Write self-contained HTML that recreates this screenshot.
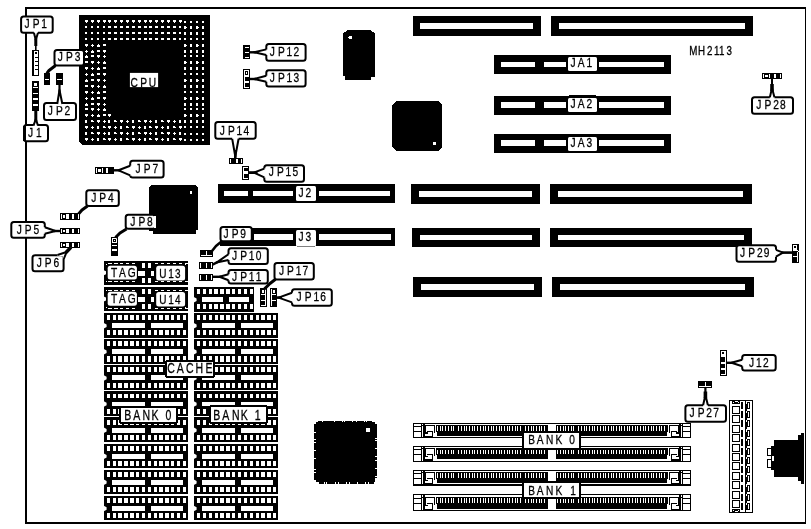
<!DOCTYPE html>
<html lang="en"><head><meta charset="utf-8"><title>MH2113 motherboard layout</title>
<style>
html,body{margin:0;padding:0;background:#fff;}
body{width:811px;height:529px;overflow:hidden;}
svg{display:block;filter:grayscale(1);font-family:"Liberation Sans",sans-serif;}

</style></head><body>
<svg width="811" height="529" viewBox="0 0 811 529" shape-rendering="crispEdges">
<rect x="0" y="0" width="811" height="529" fill="#fff"/>
<rect x="25" y="7" width="781" height="2" fill="#000"/>
<rect x="25" y="522" width="781" height="2" fill="#000"/>
<rect x="25" y="7" width="2" height="517" fill="#000"/>
<rect x="805" y="7" width="1" height="517" fill="#000"/>
<polygon points="79,15 210,15 210,145 82,145 79,142" fill="#000"/>
<rect x="85" y="20" width="3" height="2" fill="#fff"/>
<rect x="86" y="22" width="1" height="1" fill="#fff"/>
<rect x="91" y="20" width="3" height="2" fill="#fff"/>
<rect x="92" y="22" width="1" height="1" fill="#fff"/>
<rect x="97" y="20" width="3" height="2" fill="#fff"/>
<rect x="98" y="22" width="1" height="1" fill="#fff"/>
<rect x="103" y="20" width="3" height="2" fill="#fff"/>
<rect x="104" y="22" width="1" height="1" fill="#fff"/>
<rect x="108" y="20" width="3" height="2" fill="#fff"/>
<rect x="109" y="22" width="1" height="1" fill="#fff"/>
<rect x="114" y="20" width="3" height="2" fill="#fff"/>
<rect x="115" y="22" width="1" height="1" fill="#fff"/>
<rect x="120" y="20" width="3" height="2" fill="#fff"/>
<rect x="121" y="22" width="1" height="1" fill="#fff"/>
<rect x="126" y="20" width="3" height="2" fill="#fff"/>
<rect x="127" y="22" width="1" height="1" fill="#fff"/>
<rect x="132" y="20" width="3" height="2" fill="#fff"/>
<rect x="133" y="22" width="1" height="1" fill="#fff"/>
<rect x="138" y="20" width="3" height="2" fill="#fff"/>
<rect x="139" y="22" width="1" height="1" fill="#fff"/>
<rect x="144" y="20" width="3" height="2" fill="#fff"/>
<rect x="145" y="22" width="1" height="1" fill="#fff"/>
<rect x="149" y="20" width="3" height="2" fill="#fff"/>
<rect x="150" y="22" width="1" height="1" fill="#fff"/>
<rect x="155" y="20" width="3" height="2" fill="#fff"/>
<rect x="156" y="22" width="1" height="1" fill="#fff"/>
<rect x="161" y="20" width="3" height="2" fill="#fff"/>
<rect x="162" y="22" width="1" height="1" fill="#fff"/>
<rect x="167" y="20" width="3" height="2" fill="#fff"/>
<rect x="168" y="22" width="1" height="1" fill="#fff"/>
<rect x="173" y="20" width="3" height="2" fill="#fff"/>
<rect x="174" y="22" width="1" height="1" fill="#fff"/>
<rect x="179" y="20" width="3" height="2" fill="#fff"/>
<rect x="180" y="22" width="1" height="1" fill="#fff"/>
<rect x="184" y="21" width="2" height="2" fill="#fff"/>
<rect x="190" y="21" width="2" height="2" fill="#fff"/>
<rect x="196" y="21" width="2" height="2" fill="#fff"/>
<rect x="202" y="21" width="2" height="2" fill="#fff"/>
<rect x="85" y="26" width="2" height="2" fill="#fff"/>
<rect x="91" y="26" width="2" height="2" fill="#fff"/>
<rect x="97" y="26" width="2" height="2" fill="#fff"/>
<rect x="103" y="26" width="2" height="2" fill="#fff"/>
<rect x="108" y="26" width="3" height="2" fill="#fff"/>
<rect x="114" y="26" width="3" height="2" fill="#fff"/>
<rect x="120" y="26" width="3" height="2" fill="#fff"/>
<rect x="126" y="26" width="3" height="2" fill="#fff"/>
<rect x="132" y="26" width="3" height="2" fill="#fff"/>
<rect x="138" y="26" width="3" height="2" fill="#fff"/>
<rect x="144" y="26" width="3" height="2" fill="#fff"/>
<rect x="149" y="26" width="3" height="2" fill="#fff"/>
<rect x="155" y="26" width="3" height="2" fill="#fff"/>
<rect x="161" y="26" width="3" height="2" fill="#fff"/>
<rect x="167" y="26" width="3" height="2" fill="#fff"/>
<rect x="173" y="26" width="3" height="2" fill="#fff"/>
<rect x="179" y="26" width="2" height="2" fill="#fff"/>
<rect x="184" y="26" width="2" height="3" fill="#fff"/>
<rect x="186" y="27" width="1" height="1" fill="#fff"/>
<rect x="190" y="26" width="2" height="3" fill="#fff"/>
<rect x="196" y="26" width="2" height="3" fill="#fff"/>
<rect x="198" y="27" width="1" height="1" fill="#fff"/>
<rect x="202" y="26" width="2" height="3" fill="#fff"/>
<rect x="85" y="32" width="2" height="2" fill="#fff"/>
<rect x="91" y="32" width="2" height="2" fill="#fff"/>
<rect x="97" y="32" width="2" height="2" fill="#fff"/>
<rect x="103" y="32" width="2" height="2" fill="#fff"/>
<rect x="108" y="32" width="3" height="2" fill="#fff"/>
<rect x="114" y="32" width="3" height="2" fill="#fff"/>
<rect x="120" y="32" width="3" height="2" fill="#fff"/>
<rect x="126" y="32" width="3" height="2" fill="#fff"/>
<rect x="132" y="32" width="3" height="2" fill="#fff"/>
<rect x="138" y="32" width="3" height="2" fill="#fff"/>
<rect x="144" y="32" width="3" height="2" fill="#fff"/>
<rect x="149" y="32" width="3" height="2" fill="#fff"/>
<rect x="155" y="32" width="3" height="2" fill="#fff"/>
<rect x="161" y="32" width="3" height="2" fill="#fff"/>
<rect x="167" y="32" width="3" height="2" fill="#fff"/>
<rect x="173" y="32" width="3" height="2" fill="#fff"/>
<rect x="179" y="32" width="2" height="2" fill="#fff"/>
<rect x="184" y="32" width="2" height="3" fill="#fff"/>
<rect x="190" y="32" width="2" height="3" fill="#fff"/>
<rect x="196" y="32" width="2" height="3" fill="#fff"/>
<rect x="202" y="32" width="2" height="3" fill="#fff"/>
<rect x="85" y="38" width="2" height="2" fill="#fff"/>
<rect x="91" y="38" width="2" height="2" fill="#fff"/>
<rect x="97" y="38" width="2" height="2" fill="#fff"/>
<rect x="103" y="38" width="2" height="2" fill="#fff"/>
<rect x="108" y="38" width="3" height="2" fill="#fff"/>
<rect x="114" y="38" width="3" height="2" fill="#fff"/>
<rect x="120" y="38" width="3" height="2" fill="#fff"/>
<rect x="126" y="38" width="3" height="2" fill="#fff"/>
<rect x="132" y="38" width="3" height="2" fill="#fff"/>
<rect x="138" y="38" width="3" height="2" fill="#fff"/>
<rect x="144" y="38" width="3" height="2" fill="#fff"/>
<rect x="149" y="38" width="3" height="2" fill="#fff"/>
<rect x="155" y="38" width="3" height="2" fill="#fff"/>
<rect x="161" y="38" width="3" height="2" fill="#fff"/>
<rect x="167" y="38" width="3" height="2" fill="#fff"/>
<rect x="173" y="38" width="3" height="2" fill="#fff"/>
<rect x="179" y="38" width="2" height="2" fill="#fff"/>
<rect x="184" y="38" width="2" height="2" fill="#fff"/>
<rect x="190" y="38" width="2" height="2" fill="#fff"/>
<rect x="196" y="38" width="2" height="2" fill="#fff"/>
<rect x="202" y="38" width="2" height="2" fill="#fff"/>
<rect x="85" y="44" width="3" height="2" fill="#fff"/>
<rect x="86" y="46" width="1" height="1" fill="#fff"/>
<rect x="91" y="45" width="3" height="1" fill="#fff"/>
<rect x="92" y="44" width="1" height="3" fill="#fff"/>
<rect x="97" y="45" width="3" height="2" fill="#fff"/>
<rect x="98" y="44" width="1" height="1" fill="#fff"/>
<rect x="103" y="44" width="3" height="2" fill="#fff"/>
<rect x="184" y="44" width="2" height="3" fill="#fff"/>
<rect x="186" y="45" width="1" height="1" fill="#fff"/>
<rect x="190" y="44" width="2" height="3" fill="#fff"/>
<rect x="196" y="44" width="2" height="3" fill="#fff"/>
<rect x="198" y="45" width="1" height="1" fill="#fff"/>
<rect x="202" y="44" width="2" height="3" fill="#fff"/>
<rect x="85" y="51" width="3" height="1" fill="#fff"/>
<rect x="86" y="50" width="1" height="3" fill="#fff"/>
<rect x="91" y="51" width="3" height="2" fill="#fff"/>
<rect x="92" y="50" width="1" height="1" fill="#fff"/>
<rect x="97" y="50" width="3" height="2" fill="#fff"/>
<rect x="103" y="50" width="3" height="2" fill="#fff"/>
<rect x="104" y="52" width="1" height="1" fill="#fff"/>
<rect x="184" y="50" width="2" height="3" fill="#fff"/>
<rect x="190" y="50" width="2" height="3" fill="#fff"/>
<rect x="196" y="50" width="2" height="3" fill="#fff"/>
<rect x="202" y="50" width="2" height="3" fill="#fff"/>
<rect x="85" y="56" width="3" height="2" fill="#fff"/>
<rect x="86" y="55" width="1" height="1" fill="#fff"/>
<rect x="91" y="55" width="3" height="2" fill="#fff"/>
<rect x="97" y="55" width="3" height="2" fill="#fff"/>
<rect x="98" y="57" width="1" height="1" fill="#fff"/>
<rect x="103" y="56" width="3" height="1" fill="#fff"/>
<rect x="104" y="55" width="1" height="3" fill="#fff"/>
<rect x="184" y="55" width="2" height="2" fill="#fff"/>
<rect x="190" y="55" width="2" height="2" fill="#fff"/>
<rect x="196" y="55" width="2" height="2" fill="#fff"/>
<rect x="202" y="55" width="2" height="2" fill="#fff"/>
<rect x="85" y="61" width="3" height="2" fill="#fff"/>
<rect x="91" y="61" width="3" height="2" fill="#fff"/>
<rect x="92" y="63" width="1" height="1" fill="#fff"/>
<rect x="97" y="62" width="3" height="1" fill="#fff"/>
<rect x="98" y="61" width="1" height="3" fill="#fff"/>
<rect x="103" y="62" width="3" height="2" fill="#fff"/>
<rect x="104" y="61" width="1" height="1" fill="#fff"/>
<rect x="184" y="61" width="2" height="3" fill="#fff"/>
<rect x="186" y="62" width="1" height="1" fill="#fff"/>
<rect x="190" y="61" width="2" height="3" fill="#fff"/>
<rect x="196" y="61" width="2" height="3" fill="#fff"/>
<rect x="198" y="62" width="1" height="1" fill="#fff"/>
<rect x="202" y="61" width="2" height="3" fill="#fff"/>
<rect x="85" y="67" width="3" height="2" fill="#fff"/>
<rect x="86" y="69" width="1" height="1" fill="#fff"/>
<rect x="91" y="68" width="3" height="1" fill="#fff"/>
<rect x="92" y="67" width="1" height="3" fill="#fff"/>
<rect x="97" y="68" width="3" height="2" fill="#fff"/>
<rect x="98" y="67" width="1" height="1" fill="#fff"/>
<rect x="103" y="67" width="3" height="2" fill="#fff"/>
<rect x="184" y="67" width="2" height="3" fill="#fff"/>
<rect x="190" y="67" width="2" height="3" fill="#fff"/>
<rect x="196" y="67" width="2" height="3" fill="#fff"/>
<rect x="202" y="67" width="2" height="3" fill="#fff"/>
<rect x="85" y="74" width="3" height="1" fill="#fff"/>
<rect x="86" y="73" width="1" height="3" fill="#fff"/>
<rect x="91" y="74" width="3" height="2" fill="#fff"/>
<rect x="92" y="73" width="1" height="1" fill="#fff"/>
<rect x="97" y="73" width="3" height="2" fill="#fff"/>
<rect x="103" y="73" width="3" height="2" fill="#fff"/>
<rect x="104" y="75" width="1" height="1" fill="#fff"/>
<rect x="184" y="73" width="2" height="2" fill="#fff"/>
<rect x="190" y="73" width="2" height="2" fill="#fff"/>
<rect x="196" y="73" width="2" height="2" fill="#fff"/>
<rect x="202" y="73" width="2" height="2" fill="#fff"/>
<rect x="85" y="80" width="3" height="2" fill="#fff"/>
<rect x="86" y="79" width="1" height="1" fill="#fff"/>
<rect x="91" y="79" width="3" height="2" fill="#fff"/>
<rect x="97" y="79" width="3" height="2" fill="#fff"/>
<rect x="98" y="81" width="1" height="1" fill="#fff"/>
<rect x="103" y="80" width="3" height="1" fill="#fff"/>
<rect x="104" y="79" width="1" height="3" fill="#fff"/>
<rect x="184" y="79" width="2" height="3" fill="#fff"/>
<rect x="186" y="80" width="1" height="1" fill="#fff"/>
<rect x="190" y="79" width="2" height="3" fill="#fff"/>
<rect x="196" y="79" width="2" height="3" fill="#fff"/>
<rect x="198" y="80" width="1" height="1" fill="#fff"/>
<rect x="202" y="79" width="2" height="3" fill="#fff"/>
<rect x="85" y="85" width="3" height="2" fill="#fff"/>
<rect x="91" y="85" width="3" height="2" fill="#fff"/>
<rect x="92" y="87" width="1" height="1" fill="#fff"/>
<rect x="97" y="86" width="3" height="1" fill="#fff"/>
<rect x="98" y="85" width="1" height="3" fill="#fff"/>
<rect x="103" y="86" width="3" height="2" fill="#fff"/>
<rect x="104" y="85" width="1" height="1" fill="#fff"/>
<rect x="184" y="85" width="2" height="3" fill="#fff"/>
<rect x="190" y="85" width="2" height="3" fill="#fff"/>
<rect x="196" y="85" width="2" height="3" fill="#fff"/>
<rect x="202" y="85" width="2" height="3" fill="#fff"/>
<rect x="85" y="91" width="3" height="2" fill="#fff"/>
<rect x="86" y="93" width="1" height="1" fill="#fff"/>
<rect x="91" y="92" width="3" height="1" fill="#fff"/>
<rect x="92" y="91" width="1" height="3" fill="#fff"/>
<rect x="97" y="92" width="3" height="2" fill="#fff"/>
<rect x="98" y="91" width="1" height="1" fill="#fff"/>
<rect x="103" y="91" width="3" height="2" fill="#fff"/>
<rect x="184" y="91" width="2" height="2" fill="#fff"/>
<rect x="190" y="91" width="2" height="2" fill="#fff"/>
<rect x="196" y="91" width="2" height="2" fill="#fff"/>
<rect x="202" y="91" width="2" height="2" fill="#fff"/>
<rect x="85" y="98" width="3" height="1" fill="#fff"/>
<rect x="86" y="97" width="1" height="3" fill="#fff"/>
<rect x="91" y="98" width="3" height="2" fill="#fff"/>
<rect x="92" y="97" width="1" height="1" fill="#fff"/>
<rect x="97" y="97" width="3" height="2" fill="#fff"/>
<rect x="103" y="97" width="3" height="2" fill="#fff"/>
<rect x="104" y="99" width="1" height="1" fill="#fff"/>
<rect x="184" y="97" width="2" height="3" fill="#fff"/>
<rect x="186" y="98" width="1" height="1" fill="#fff"/>
<rect x="190" y="97" width="2" height="3" fill="#fff"/>
<rect x="196" y="97" width="2" height="3" fill="#fff"/>
<rect x="198" y="98" width="1" height="1" fill="#fff"/>
<rect x="202" y="97" width="2" height="3" fill="#fff"/>
<rect x="85" y="104" width="3" height="2" fill="#fff"/>
<rect x="86" y="103" width="1" height="1" fill="#fff"/>
<rect x="91" y="103" width="3" height="2" fill="#fff"/>
<rect x="97" y="103" width="3" height="2" fill="#fff"/>
<rect x="98" y="105" width="1" height="1" fill="#fff"/>
<rect x="103" y="104" width="3" height="1" fill="#fff"/>
<rect x="104" y="103" width="1" height="3" fill="#fff"/>
<rect x="184" y="103" width="2" height="3" fill="#fff"/>
<rect x="190" y="103" width="2" height="3" fill="#fff"/>
<rect x="196" y="103" width="2" height="3" fill="#fff"/>
<rect x="202" y="103" width="2" height="3" fill="#fff"/>
<rect x="85" y="108" width="3" height="2" fill="#fff"/>
<rect x="91" y="108" width="3" height="2" fill="#fff"/>
<rect x="92" y="110" width="1" height="1" fill="#fff"/>
<rect x="97" y="109" width="3" height="1" fill="#fff"/>
<rect x="98" y="108" width="1" height="3" fill="#fff"/>
<rect x="103" y="109" width="3" height="2" fill="#fff"/>
<rect x="104" y="108" width="1" height="1" fill="#fff"/>
<rect x="184" y="108" width="2" height="2" fill="#fff"/>
<rect x="190" y="108" width="2" height="2" fill="#fff"/>
<rect x="196" y="108" width="2" height="2" fill="#fff"/>
<rect x="202" y="108" width="2" height="2" fill="#fff"/>
<rect x="85" y="114" width="3" height="2" fill="#fff"/>
<rect x="86" y="116" width="1" height="1" fill="#fff"/>
<rect x="91" y="115" width="3" height="1" fill="#fff"/>
<rect x="92" y="114" width="1" height="3" fill="#fff"/>
<rect x="97" y="115" width="3" height="2" fill="#fff"/>
<rect x="98" y="114" width="1" height="1" fill="#fff"/>
<rect x="103" y="114" width="3" height="2" fill="#fff"/>
<rect x="108" y="114" width="3" height="2" fill="#fff"/>
<rect x="109" y="116" width="1" height="1" fill="#fff"/>
<rect x="184" y="114" width="2" height="3" fill="#fff"/>
<rect x="186" y="115" width="1" height="1" fill="#fff"/>
<rect x="190" y="114" width="2" height="3" fill="#fff"/>
<rect x="196" y="114" width="2" height="3" fill="#fff"/>
<rect x="198" y="115" width="1" height="1" fill="#fff"/>
<rect x="202" y="114" width="2" height="3" fill="#fff"/>
<rect x="85" y="120" width="2" height="3" fill="#fff"/>
<rect x="91" y="120" width="2" height="2" fill="#fff"/>
<rect x="93" y="121" width="1" height="1" fill="#fff"/>
<rect x="97" y="120" width="3" height="2" fill="#fff"/>
<rect x="98" y="122" width="1" height="1" fill="#fff"/>
<rect x="103" y="121" width="3" height="1" fill="#fff"/>
<rect x="104" y="120" width="1" height="3" fill="#fff"/>
<rect x="108" y="120" width="2" height="3" fill="#fff"/>
<rect x="114" y="120" width="2" height="2" fill="#fff"/>
<rect x="116" y="121" width="1" height="1" fill="#fff"/>
<rect x="120" y="120" width="3" height="2" fill="#fff"/>
<rect x="121" y="122" width="1" height="1" fill="#fff"/>
<rect x="126" y="121" width="3" height="1" fill="#fff"/>
<rect x="127" y="120" width="1" height="3" fill="#fff"/>
<rect x="132" y="120" width="2" height="3" fill="#fff"/>
<rect x="138" y="120" width="2" height="2" fill="#fff"/>
<rect x="140" y="121" width="1" height="1" fill="#fff"/>
<rect x="144" y="120" width="3" height="2" fill="#fff"/>
<rect x="145" y="122" width="1" height="1" fill="#fff"/>
<rect x="149" y="121" width="3" height="1" fill="#fff"/>
<rect x="150" y="120" width="1" height="3" fill="#fff"/>
<rect x="155" y="120" width="2" height="3" fill="#fff"/>
<rect x="161" y="120" width="2" height="2" fill="#fff"/>
<rect x="163" y="121" width="1" height="1" fill="#fff"/>
<rect x="167" y="120" width="3" height="2" fill="#fff"/>
<rect x="168" y="122" width="1" height="1" fill="#fff"/>
<rect x="173" y="121" width="3" height="1" fill="#fff"/>
<rect x="174" y="120" width="1" height="3" fill="#fff"/>
<rect x="179" y="120" width="2" height="3" fill="#fff"/>
<rect x="184" y="120" width="2" height="3" fill="#fff"/>
<rect x="190" y="120" width="2" height="3" fill="#fff"/>
<rect x="196" y="120" width="2" height="3" fill="#fff"/>
<rect x="202" y="120" width="2" height="3" fill="#fff"/>
<rect x="85" y="126" width="3" height="2" fill="#fff"/>
<rect x="86" y="128" width="1" height="1" fill="#fff"/>
<rect x="91" y="127" width="3" height="1" fill="#fff"/>
<rect x="92" y="126" width="1" height="3" fill="#fff"/>
<rect x="97" y="126" width="2" height="3" fill="#fff"/>
<rect x="103" y="126" width="2" height="2" fill="#fff"/>
<rect x="105" y="127" width="1" height="1" fill="#fff"/>
<rect x="108" y="126" width="3" height="2" fill="#fff"/>
<rect x="109" y="128" width="1" height="1" fill="#fff"/>
<rect x="114" y="127" width="3" height="1" fill="#fff"/>
<rect x="115" y="126" width="1" height="3" fill="#fff"/>
<rect x="120" y="126" width="2" height="3" fill="#fff"/>
<rect x="126" y="126" width="2" height="2" fill="#fff"/>
<rect x="128" y="127" width="1" height="1" fill="#fff"/>
<rect x="132" y="126" width="3" height="2" fill="#fff"/>
<rect x="133" y="128" width="1" height="1" fill="#fff"/>
<rect x="138" y="127" width="3" height="1" fill="#fff"/>
<rect x="139" y="126" width="1" height="3" fill="#fff"/>
<rect x="144" y="126" width="2" height="3" fill="#fff"/>
<rect x="149" y="126" width="2" height="2" fill="#fff"/>
<rect x="151" y="127" width="1" height="1" fill="#fff"/>
<rect x="155" y="126" width="3" height="2" fill="#fff"/>
<rect x="156" y="128" width="1" height="1" fill="#fff"/>
<rect x="161" y="127" width="3" height="1" fill="#fff"/>
<rect x="162" y="126" width="1" height="3" fill="#fff"/>
<rect x="167" y="126" width="2" height="3" fill="#fff"/>
<rect x="173" y="126" width="2" height="2" fill="#fff"/>
<rect x="175" y="127" width="1" height="1" fill="#fff"/>
<rect x="179" y="126" width="3" height="2" fill="#fff"/>
<rect x="180" y="128" width="1" height="1" fill="#fff"/>
<rect x="184" y="126" width="2" height="2" fill="#fff"/>
<rect x="190" y="126" width="2" height="2" fill="#fff"/>
<rect x="196" y="126" width="2" height="2" fill="#fff"/>
<rect x="202" y="126" width="2" height="2" fill="#fff"/>
<rect x="85" y="132" width="2" height="3" fill="#fff"/>
<rect x="91" y="132" width="2" height="2" fill="#fff"/>
<rect x="93" y="133" width="1" height="1" fill="#fff"/>
<rect x="97" y="132" width="3" height="2" fill="#fff"/>
<rect x="98" y="134" width="1" height="1" fill="#fff"/>
<rect x="103" y="133" width="3" height="1" fill="#fff"/>
<rect x="104" y="132" width="1" height="3" fill="#fff"/>
<rect x="108" y="132" width="2" height="3" fill="#fff"/>
<rect x="114" y="132" width="2" height="2" fill="#fff"/>
<rect x="116" y="133" width="1" height="1" fill="#fff"/>
<rect x="120" y="132" width="3" height="2" fill="#fff"/>
<rect x="121" y="134" width="1" height="1" fill="#fff"/>
<rect x="126" y="133" width="3" height="1" fill="#fff"/>
<rect x="127" y="132" width="1" height="3" fill="#fff"/>
<rect x="132" y="132" width="2" height="3" fill="#fff"/>
<rect x="138" y="132" width="2" height="2" fill="#fff"/>
<rect x="140" y="133" width="1" height="1" fill="#fff"/>
<rect x="144" y="132" width="3" height="2" fill="#fff"/>
<rect x="145" y="134" width="1" height="1" fill="#fff"/>
<rect x="149" y="133" width="3" height="1" fill="#fff"/>
<rect x="150" y="132" width="1" height="3" fill="#fff"/>
<rect x="155" y="132" width="2" height="3" fill="#fff"/>
<rect x="161" y="132" width="2" height="2" fill="#fff"/>
<rect x="163" y="133" width="1" height="1" fill="#fff"/>
<rect x="167" y="132" width="3" height="2" fill="#fff"/>
<rect x="168" y="134" width="1" height="1" fill="#fff"/>
<rect x="173" y="133" width="3" height="1" fill="#fff"/>
<rect x="174" y="132" width="1" height="3" fill="#fff"/>
<rect x="179" y="132" width="2" height="3" fill="#fff"/>
<rect x="184" y="133" width="2" height="2" fill="#fff"/>
<rect x="190" y="133" width="2" height="2" fill="#fff"/>
<rect x="196" y="133" width="2" height="2" fill="#fff"/>
<rect x="202" y="133" width="2" height="2" fill="#fff"/>
<rect x="85" y="138" width="3" height="2" fill="#fff"/>
<rect x="86" y="140" width="1" height="1" fill="#fff"/>
<rect x="91" y="139" width="3" height="1" fill="#fff"/>
<rect x="92" y="138" width="1" height="3" fill="#fff"/>
<rect x="97" y="138" width="2" height="3" fill="#fff"/>
<rect x="103" y="138" width="2" height="2" fill="#fff"/>
<rect x="105" y="139" width="1" height="1" fill="#fff"/>
<rect x="108" y="138" width="3" height="2" fill="#fff"/>
<rect x="109" y="140" width="1" height="1" fill="#fff"/>
<rect x="114" y="139" width="3" height="1" fill="#fff"/>
<rect x="115" y="138" width="1" height="3" fill="#fff"/>
<rect x="120" y="138" width="2" height="3" fill="#fff"/>
<rect x="126" y="138" width="2" height="2" fill="#fff"/>
<rect x="128" y="139" width="1" height="1" fill="#fff"/>
<rect x="132" y="138" width="3" height="2" fill="#fff"/>
<rect x="133" y="140" width="1" height="1" fill="#fff"/>
<rect x="138" y="139" width="3" height="1" fill="#fff"/>
<rect x="139" y="138" width="1" height="3" fill="#fff"/>
<rect x="144" y="138" width="2" height="3" fill="#fff"/>
<rect x="149" y="138" width="2" height="2" fill="#fff"/>
<rect x="151" y="139" width="1" height="1" fill="#fff"/>
<rect x="155" y="138" width="3" height="2" fill="#fff"/>
<rect x="156" y="140" width="1" height="1" fill="#fff"/>
<rect x="161" y="139" width="3" height="1" fill="#fff"/>
<rect x="162" y="138" width="1" height="3" fill="#fff"/>
<rect x="167" y="138" width="2" height="3" fill="#fff"/>
<rect x="173" y="138" width="2" height="2" fill="#fff"/>
<rect x="175" y="139" width="1" height="1" fill="#fff"/>
<rect x="179" y="138" width="3" height="2" fill="#fff"/>
<rect x="180" y="140" width="1" height="1" fill="#fff"/>
<rect x="184" y="139" width="2" height="2" fill="#fff"/>
<rect x="190" y="139" width="2" height="2" fill="#fff"/>
<rect x="196" y="139" width="2" height="2" fill="#fff"/>
<rect x="202" y="139" width="2" height="2" fill="#fff"/>
<rect x="129.90" y="72.90" width="28.20" height="14.20" rx="0" fill="#fff" shape-rendering="geometricPrecision"/>
<text transform="translate(130.60,86.80) scale(0.75,1)" x="0.00 12.80 24.27" font-size="13.6" fill="#000" stroke="#000" stroke-width="0.3">CPU</text>
<polygon points="347,30 370,30 373,32 375,34 375,77 371,77 371,80 345,80 345,76 343,76 343,33 345,32" fill="#000"/>
<rect x="349" y="36" width="3" height="3" fill="#fff"/>
<rect x="348" y="37" width="1" height="1" fill="#fff"/>
<polygon points="396,101 438,101 442,105 442,147 438,151 396,151 392,147 392,105" fill="#000"/>
<rect x="433" y="142" width="3" height="3" fill="#fff"/>
<polygon points="151,185 195,185 198,188 198,230 196,230 196,234 153,234 153,231 149,231 149,188" fill="#000"/>
<rect x="190" y="191" width="2" height="3" fill="#fff"/>
<rect x="316" y="422" width="59" height="60" fill="#000"/>
<rect x="318" y="421" width="54" height="2" fill="#000"/>
<rect x="319" y="481" width="55" height="3" fill="#000"/>
<rect x="314" y="424" width="2" height="56" fill="#000"/>
<rect x="374" y="424" width="3" height="54" fill="#000"/>
<rect x="366" y="428" width="4" height="4" fill="#fff"/>
<rect x="322" y="420" width="1" height="2" fill="#fff"/>
<rect x="334" y="420" width="1" height="2" fill="#fff"/>
<rect x="342" y="420" width="1" height="2" fill="#fff"/>
<rect x="344" y="420" width="1" height="2" fill="#fff"/>
<rect x="352" y="420" width="1" height="2" fill="#fff"/>
<rect x="356" y="420" width="1" height="2" fill="#fff"/>
<rect x="364" y="420" width="1" height="2" fill="#fff"/>
<rect x="366" y="420" width="1" height="2" fill="#fff"/>
<rect x="324" y="482" width="1" height="2" fill="#fff"/>
<rect x="326" y="482" width="1" height="2" fill="#fff"/>
<rect x="335" y="482" width="1" height="2" fill="#fff"/>
<rect x="338" y="482" width="1" height="2" fill="#fff"/>
<rect x="346" y="482" width="1" height="2" fill="#fff"/>
<rect x="349" y="482" width="1" height="2" fill="#fff"/>
<rect x="357" y="482" width="1" height="2" fill="#fff"/>
<rect x="365" y="482" width="1" height="2" fill="#fff"/>
<rect x="368" y="482" width="1" height="2" fill="#fff"/>
<rect x="314" y="432" width="2" height="1" fill="#fff"/>
<rect x="314" y="439" width="2" height="1" fill="#fff"/>
<rect x="314" y="442" width="2" height="1" fill="#fff"/>
<rect x="314" y="450" width="2" height="1" fill="#fff"/>
<rect x="314" y="458" width="2" height="1" fill="#fff"/>
<rect x="314" y="469" width="2" height="1" fill="#fff"/>
<rect x="314" y="472" width="2" height="1" fill="#fff"/>
<rect x="375" y="438" width="2" height="1" fill="#fff"/>
<rect x="375" y="440" width="2" height="1" fill="#fff"/>
<rect x="375" y="448" width="2" height="1" fill="#fff"/>
<rect x="375" y="456" width="2" height="1" fill="#fff"/>
<rect x="375" y="460" width="2" height="1" fill="#fff"/>
<rect x="375" y="468" width="2" height="1" fill="#fff"/>
<rect x="375" y="476" width="2" height="1" fill="#fff"/>
<rect x="413" y="16" width="128" height="20" fill="#000"/>
<rect x="420" y="23" width="113" height="6" fill="#fff"/>
<rect x="551" y="16" width="202" height="20" fill="#000"/>
<rect x="559" y="23" width="186" height="6" fill="#fff"/>
<rect x="411" y="184" width="129" height="20" fill="#000"/>
<rect x="419" y="191" width="113" height="6" fill="#fff"/>
<rect x="550" y="184" width="202" height="20" fill="#000"/>
<rect x="558" y="191" width="185" height="6" fill="#fff"/>
<rect x="412" y="228" width="128" height="19" fill="#000"/>
<rect x="420" y="235" width="112" height="5" fill="#fff"/>
<rect x="550" y="228" width="202" height="19" fill="#000"/>
<rect x="558" y="235" width="186" height="5" fill="#fff"/>
<rect x="413" y="277" width="129" height="20" fill="#000"/>
<rect x="421" y="284" width="113" height="6" fill="#fff"/>
<rect x="552" y="277" width="202" height="20" fill="#000"/>
<rect x="560" y="284" width="185" height="6" fill="#fff"/>
<rect x="494" y="55" width="177" height="19" fill="#000"/>
<rect x="501" y="62" width="34" height="5" fill="#fff"/>
<rect x="544" y="62" width="22" height="5" fill="#fff"/>
<rect x="599" y="62" width="65" height="5" fill="#fff"/>
<rect x="568.00" y="57.00" width="29.00" height="14.00" rx="1.5" fill="#fff" shape-rendering="geometricPrecision"/>
<text transform="translate(570.60,67.00) scale(0.75,1)" x="0.00 9.47 21.20" font-size="13.6" fill="#000" stroke="#000" stroke-width="0.3">JA1</text>
<rect x="494" y="96" width="177" height="19" fill="#000"/>
<rect x="501" y="102" width="34" height="6" fill="#fff"/>
<rect x="544" y="102" width="22" height="6" fill="#fff"/>
<rect x="599" y="102" width="65" height="6" fill="#fff"/>
<rect x="569" y="95" width="27" height="1" fill="#000"/>
<rect x="568.00" y="98.00" width="29.00" height="14.00" rx="1.5" fill="#fff" shape-rendering="geometricPrecision"/>
<text transform="translate(570.60,108.00) scale(0.75,1)" x="0.00 9.47 21.20" font-size="13.6" fill="#000" stroke="#000" stroke-width="0.3">JA2</text>
<rect x="494" y="134" width="177" height="19" fill="#000"/>
<rect x="501" y="140" width="34" height="6" fill="#fff"/>
<rect x="544" y="140" width="22" height="6" fill="#fff"/>
<rect x="599" y="140" width="65" height="6" fill="#fff"/>
<rect x="568.00" y="137.00" width="29.00" height="14.00" rx="1.5" fill="#fff" shape-rendering="geometricPrecision"/>
<text transform="translate(570.60,147.00) scale(0.75,1)" x="0.00 9.47 21.20" font-size="13.6" fill="#000" stroke="#000" stroke-width="0.3">JA3</text>
<rect x="218" y="184" width="177" height="19" fill="#000"/>
<rect x="224" y="191" width="24" height="5" fill="#fff"/>
<rect x="253" y="191" width="40" height="5" fill="#fff"/>
<rect x="319" y="191" width="71" height="5" fill="#fff"/>
<rect x="296.00" y="186.00" width="20.00" height="15.00" rx="1.5" fill="#fff" shape-rendering="geometricPrecision"/>
<text transform="translate(298.60,197.00) scale(0.75,1)" x="0.00 9.33" font-size="13.6" fill="#000" stroke="#000" stroke-width="0.3">J2</text>
<rect x="220" y="228" width="175" height="18" fill="#000"/>
<rect x="254" y="234" width="39" height="6" fill="#fff"/>
<rect x="319" y="234" width="72" height="6" fill="#fff"/>
<rect x="297" y="246" width="18" height="1" fill="#000"/>
<rect x="296.00" y="230.00" width="20.00" height="16.60" rx="1.5" fill="#fff" shape-rendering="geometricPrecision"/>
<text transform="translate(298.60,241.00) scale(0.75,1)" x="0.00 9.33" font-size="13.6" fill="#000" stroke="#000" stroke-width="0.3">J3</text>
<rect x="194" y="287" width="60" height="25" fill="#000"/>
<rect x="197" y="289" width="3" height="5" fill="#fff"/>
<rect x="197" y="304" width="3" height="5" fill="#fff"/>
<rect x="203" y="289" width="3" height="5" fill="#fff"/>
<rect x="203" y="304" width="3" height="5" fill="#fff"/>
<rect x="209" y="289" width="3" height="5" fill="#fff"/>
<rect x="209" y="304" width="3" height="5" fill="#fff"/>
<rect x="214" y="289" width="4" height="5" fill="#fff"/>
<rect x="214" y="304" width="4" height="5" fill="#fff"/>
<rect x="220" y="289" width="4" height="5" fill="#fff"/>
<rect x="220" y="304" width="4" height="5" fill="#fff"/>
<rect x="226" y="289" width="4" height="5" fill="#fff"/>
<rect x="226" y="304" width="4" height="5" fill="#fff"/>
<rect x="232" y="289" width="3" height="5" fill="#fff"/>
<rect x="232" y="304" width="3" height="5" fill="#fff"/>
<rect x="238" y="289" width="3" height="5" fill="#fff"/>
<rect x="238" y="304" width="3" height="5" fill="#fff"/>
<rect x="244" y="289" width="3" height="5" fill="#fff"/>
<rect x="244" y="304" width="3" height="5" fill="#fff"/>
<rect x="250" y="289" width="3" height="5" fill="#fff"/>
<rect x="250" y="304" width="3" height="5" fill="#fff"/>
<rect x="202" y="297" width="21" height="5" fill="#fff"/>
<rect x="229" y="297" width="20" height="5" fill="#fff"/>
<polygon points="193.80,296.90 196.60,298.40 196.60,300.90 193.80,302.40" fill="#fff" shape-rendering="geometricPrecision"/>
<rect x="104" y="313" width="84" height="25" fill="#000"/>
<rect x="107" y="315" width="3" height="5" fill="#fff"/>
<rect x="107" y="330" width="3" height="5" fill="#fff"/>
<rect x="113" y="315" width="3" height="5" fill="#fff"/>
<rect x="113" y="330" width="3" height="5" fill="#fff"/>
<rect x="118" y="315" width="4" height="5" fill="#fff"/>
<rect x="118" y="330" width="4" height="5" fill="#fff"/>
<rect x="124" y="315" width="4" height="5" fill="#fff"/>
<rect x="124" y="330" width="4" height="5" fill="#fff"/>
<rect x="130" y="315" width="4" height="5" fill="#fff"/>
<rect x="130" y="330" width="4" height="5" fill="#fff"/>
<rect x="136" y="315" width="3" height="5" fill="#fff"/>
<rect x="136" y="330" width="3" height="5" fill="#fff"/>
<rect x="142" y="315" width="3" height="5" fill="#fff"/>
<rect x="142" y="330" width="3" height="5" fill="#fff"/>
<rect x="148" y="315" width="3" height="5" fill="#fff"/>
<rect x="148" y="330" width="3" height="5" fill="#fff"/>
<rect x="154" y="315" width="3" height="5" fill="#fff"/>
<rect x="154" y="330" width="3" height="5" fill="#fff"/>
<rect x="159" y="315" width="4" height="5" fill="#fff"/>
<rect x="159" y="330" width="4" height="5" fill="#fff"/>
<rect x="165" y="315" width="4" height="5" fill="#fff"/>
<rect x="165" y="330" width="4" height="5" fill="#fff"/>
<rect x="171" y="315" width="3" height="5" fill="#fff"/>
<rect x="171" y="330" width="3" height="5" fill="#fff"/>
<rect x="177" y="315" width="3" height="5" fill="#fff"/>
<rect x="177" y="330" width="3" height="5" fill="#fff"/>
<rect x="183" y="315" width="3" height="5" fill="#fff"/>
<rect x="183" y="330" width="3" height="5" fill="#fff"/>
<rect x="112" y="323" width="33" height="5" fill="#fff"/>
<rect x="151" y="323" width="32" height="5" fill="#fff"/>
<polygon points="103.80,323.00 106.60,324.50 106.60,327.00 103.80,328.50" fill="#fff" shape-rendering="geometricPrecision"/>
<rect x="194" y="313" width="84" height="25" fill="#000"/>
<rect x="197" y="315" width="3" height="5" fill="#fff"/>
<rect x="197" y="330" width="3" height="5" fill="#fff"/>
<rect x="203" y="315" width="3" height="5" fill="#fff"/>
<rect x="203" y="330" width="3" height="5" fill="#fff"/>
<rect x="209" y="315" width="3" height="5" fill="#fff"/>
<rect x="209" y="330" width="3" height="5" fill="#fff"/>
<rect x="215" y="315" width="3" height="5" fill="#fff"/>
<rect x="215" y="330" width="3" height="5" fill="#fff"/>
<rect x="220" y="315" width="4" height="5" fill="#fff"/>
<rect x="220" y="330" width="4" height="5" fill="#fff"/>
<rect x="226" y="315" width="4" height="5" fill="#fff"/>
<rect x="226" y="330" width="4" height="5" fill="#fff"/>
<rect x="232" y="315" width="3" height="5" fill="#fff"/>
<rect x="232" y="330" width="3" height="5" fill="#fff"/>
<rect x="238" y="315" width="3" height="5" fill="#fff"/>
<rect x="238" y="330" width="3" height="5" fill="#fff"/>
<rect x="244" y="315" width="3" height="5" fill="#fff"/>
<rect x="244" y="330" width="3" height="5" fill="#fff"/>
<rect x="250" y="315" width="3" height="5" fill="#fff"/>
<rect x="250" y="330" width="3" height="5" fill="#fff"/>
<rect x="256" y="315" width="3" height="5" fill="#fff"/>
<rect x="256" y="330" width="3" height="5" fill="#fff"/>
<rect x="261" y="315" width="4" height="5" fill="#fff"/>
<rect x="261" y="330" width="4" height="5" fill="#fff"/>
<rect x="267" y="315" width="4" height="5" fill="#fff"/>
<rect x="267" y="330" width="4" height="5" fill="#fff"/>
<rect x="273" y="315" width="3" height="5" fill="#fff"/>
<rect x="273" y="330" width="3" height="5" fill="#fff"/>
<rect x="202" y="323" width="33" height="5" fill="#fff"/>
<rect x="241" y="323" width="32" height="5" fill="#fff"/>
<polygon points="193.80,323.00 196.60,324.50 196.60,327.00 193.80,328.50" fill="#fff" shape-rendering="geometricPrecision"/>
<rect x="104" y="339" width="84" height="25" fill="#000"/>
<rect x="107" y="341" width="3" height="5" fill="#fff"/>
<rect x="107" y="356" width="3" height="6" fill="#fff"/>
<rect x="113" y="341" width="3" height="5" fill="#fff"/>
<rect x="113" y="356" width="3" height="6" fill="#fff"/>
<rect x="118" y="341" width="4" height="5" fill="#fff"/>
<rect x="118" y="356" width="4" height="6" fill="#fff"/>
<rect x="124" y="341" width="4" height="5" fill="#fff"/>
<rect x="124" y="356" width="4" height="6" fill="#fff"/>
<rect x="130" y="341" width="4" height="5" fill="#fff"/>
<rect x="130" y="356" width="4" height="6" fill="#fff"/>
<rect x="136" y="341" width="3" height="5" fill="#fff"/>
<rect x="136" y="356" width="3" height="6" fill="#fff"/>
<rect x="142" y="341" width="3" height="5" fill="#fff"/>
<rect x="142" y="356" width="3" height="6" fill="#fff"/>
<rect x="148" y="341" width="3" height="5" fill="#fff"/>
<rect x="148" y="356" width="3" height="6" fill="#fff"/>
<rect x="154" y="341" width="3" height="5" fill="#fff"/>
<rect x="154" y="356" width="3" height="6" fill="#fff"/>
<rect x="159" y="341" width="4" height="5" fill="#fff"/>
<rect x="159" y="356" width="4" height="6" fill="#fff"/>
<rect x="165" y="341" width="4" height="5" fill="#fff"/>
<rect x="165" y="356" width="4" height="6" fill="#fff"/>
<rect x="171" y="341" width="3" height="5" fill="#fff"/>
<rect x="171" y="356" width="3" height="6" fill="#fff"/>
<rect x="177" y="341" width="3" height="5" fill="#fff"/>
<rect x="177" y="356" width="3" height="6" fill="#fff"/>
<rect x="183" y="341" width="3" height="5" fill="#fff"/>
<rect x="183" y="356" width="3" height="6" fill="#fff"/>
<rect x="112" y="349" width="33" height="5" fill="#fff"/>
<rect x="151" y="349" width="32" height="5" fill="#fff"/>
<polygon points="103.80,349.10 106.60,350.60 106.60,353.10 103.80,354.60" fill="#fff" shape-rendering="geometricPrecision"/>
<rect x="194" y="339" width="84" height="25" fill="#000"/>
<rect x="197" y="341" width="3" height="5" fill="#fff"/>
<rect x="197" y="356" width="3" height="6" fill="#fff"/>
<rect x="203" y="341" width="3" height="5" fill="#fff"/>
<rect x="203" y="356" width="3" height="6" fill="#fff"/>
<rect x="209" y="341" width="3" height="5" fill="#fff"/>
<rect x="209" y="356" width="3" height="6" fill="#fff"/>
<rect x="215" y="341" width="3" height="5" fill="#fff"/>
<rect x="215" y="356" width="3" height="6" fill="#fff"/>
<rect x="220" y="341" width="4" height="5" fill="#fff"/>
<rect x="220" y="356" width="4" height="6" fill="#fff"/>
<rect x="226" y="341" width="4" height="5" fill="#fff"/>
<rect x="226" y="356" width="4" height="6" fill="#fff"/>
<rect x="232" y="341" width="3" height="5" fill="#fff"/>
<rect x="232" y="356" width="3" height="6" fill="#fff"/>
<rect x="238" y="341" width="3" height="5" fill="#fff"/>
<rect x="238" y="356" width="3" height="6" fill="#fff"/>
<rect x="244" y="341" width="3" height="5" fill="#fff"/>
<rect x="244" y="356" width="3" height="6" fill="#fff"/>
<rect x="250" y="341" width="3" height="5" fill="#fff"/>
<rect x="250" y="356" width="3" height="6" fill="#fff"/>
<rect x="256" y="341" width="3" height="5" fill="#fff"/>
<rect x="256" y="356" width="3" height="6" fill="#fff"/>
<rect x="261" y="341" width="4" height="5" fill="#fff"/>
<rect x="261" y="356" width="4" height="6" fill="#fff"/>
<rect x="267" y="341" width="4" height="5" fill="#fff"/>
<rect x="267" y="356" width="4" height="6" fill="#fff"/>
<rect x="273" y="341" width="3" height="5" fill="#fff"/>
<rect x="273" y="356" width="3" height="6" fill="#fff"/>
<rect x="202" y="349" width="33" height="5" fill="#fff"/>
<rect x="241" y="349" width="32" height="5" fill="#fff"/>
<polygon points="193.80,349.10 196.60,350.60 196.60,353.10 193.80,354.60" fill="#fff" shape-rendering="geometricPrecision"/>
<rect x="104" y="365" width="84" height="25" fill="#000"/>
<rect x="107" y="367" width="3" height="5" fill="#fff"/>
<rect x="107" y="383" width="3" height="5" fill="#fff"/>
<rect x="113" y="367" width="3" height="5" fill="#fff"/>
<rect x="113" y="383" width="3" height="5" fill="#fff"/>
<rect x="118" y="367" width="4" height="5" fill="#fff"/>
<rect x="118" y="383" width="4" height="5" fill="#fff"/>
<rect x="124" y="367" width="4" height="5" fill="#fff"/>
<rect x="124" y="383" width="4" height="5" fill="#fff"/>
<rect x="130" y="367" width="4" height="5" fill="#fff"/>
<rect x="130" y="383" width="4" height="5" fill="#fff"/>
<rect x="136" y="367" width="3" height="5" fill="#fff"/>
<rect x="136" y="383" width="3" height="5" fill="#fff"/>
<rect x="142" y="367" width="3" height="5" fill="#fff"/>
<rect x="142" y="383" width="3" height="5" fill="#fff"/>
<rect x="148" y="367" width="3" height="5" fill="#fff"/>
<rect x="148" y="383" width="3" height="5" fill="#fff"/>
<rect x="154" y="367" width="3" height="5" fill="#fff"/>
<rect x="154" y="383" width="3" height="5" fill="#fff"/>
<rect x="159" y="367" width="4" height="5" fill="#fff"/>
<rect x="159" y="383" width="4" height="5" fill="#fff"/>
<rect x="165" y="367" width="4" height="5" fill="#fff"/>
<rect x="165" y="383" width="4" height="5" fill="#fff"/>
<rect x="171" y="367" width="3" height="5" fill="#fff"/>
<rect x="171" y="383" width="3" height="5" fill="#fff"/>
<rect x="177" y="367" width="3" height="5" fill="#fff"/>
<rect x="177" y="383" width="3" height="5" fill="#fff"/>
<rect x="183" y="367" width="3" height="5" fill="#fff"/>
<rect x="183" y="383" width="3" height="5" fill="#fff"/>
<rect x="112" y="375" width="33" height="5" fill="#fff"/>
<rect x="151" y="375" width="32" height="5" fill="#fff"/>
<polygon points="103.80,375.20 106.60,376.70 106.60,379.20 103.80,380.70" fill="#fff" shape-rendering="geometricPrecision"/>
<rect x="194" y="365" width="84" height="25" fill="#000"/>
<rect x="197" y="367" width="3" height="5" fill="#fff"/>
<rect x="197" y="383" width="3" height="5" fill="#fff"/>
<rect x="203" y="367" width="3" height="5" fill="#fff"/>
<rect x="203" y="383" width="3" height="5" fill="#fff"/>
<rect x="209" y="367" width="3" height="5" fill="#fff"/>
<rect x="209" y="383" width="3" height="5" fill="#fff"/>
<rect x="215" y="367" width="3" height="5" fill="#fff"/>
<rect x="215" y="383" width="3" height="5" fill="#fff"/>
<rect x="220" y="367" width="4" height="5" fill="#fff"/>
<rect x="220" y="383" width="4" height="5" fill="#fff"/>
<rect x="226" y="367" width="4" height="5" fill="#fff"/>
<rect x="226" y="383" width="4" height="5" fill="#fff"/>
<rect x="232" y="367" width="3" height="5" fill="#fff"/>
<rect x="232" y="383" width="3" height="5" fill="#fff"/>
<rect x="238" y="367" width="3" height="5" fill="#fff"/>
<rect x="238" y="383" width="3" height="5" fill="#fff"/>
<rect x="244" y="367" width="3" height="5" fill="#fff"/>
<rect x="244" y="383" width="3" height="5" fill="#fff"/>
<rect x="250" y="367" width="3" height="5" fill="#fff"/>
<rect x="250" y="383" width="3" height="5" fill="#fff"/>
<rect x="256" y="367" width="3" height="5" fill="#fff"/>
<rect x="256" y="383" width="3" height="5" fill="#fff"/>
<rect x="261" y="367" width="4" height="5" fill="#fff"/>
<rect x="261" y="383" width="4" height="5" fill="#fff"/>
<rect x="267" y="367" width="4" height="5" fill="#fff"/>
<rect x="267" y="383" width="4" height="5" fill="#fff"/>
<rect x="273" y="367" width="3" height="5" fill="#fff"/>
<rect x="273" y="383" width="3" height="5" fill="#fff"/>
<rect x="202" y="375" width="33" height="5" fill="#fff"/>
<rect x="241" y="375" width="32" height="5" fill="#fff"/>
<polygon points="193.80,375.20 196.60,376.70 196.60,379.20 193.80,380.70" fill="#fff" shape-rendering="geometricPrecision"/>
<rect x="104" y="391" width="84" height="25" fill="#000"/>
<rect x="107" y="394" width="3" height="4" fill="#fff"/>
<rect x="107" y="409" width="3" height="5" fill="#fff"/>
<rect x="113" y="394" width="3" height="4" fill="#fff"/>
<rect x="113" y="409" width="3" height="5" fill="#fff"/>
<rect x="118" y="394" width="4" height="4" fill="#fff"/>
<rect x="118" y="409" width="4" height="5" fill="#fff"/>
<rect x="124" y="394" width="4" height="4" fill="#fff"/>
<rect x="124" y="409" width="4" height="5" fill="#fff"/>
<rect x="130" y="394" width="4" height="4" fill="#fff"/>
<rect x="130" y="409" width="4" height="5" fill="#fff"/>
<rect x="136" y="394" width="3" height="4" fill="#fff"/>
<rect x="136" y="409" width="3" height="5" fill="#fff"/>
<rect x="142" y="394" width="3" height="4" fill="#fff"/>
<rect x="142" y="409" width="3" height="5" fill="#fff"/>
<rect x="148" y="394" width="3" height="4" fill="#fff"/>
<rect x="148" y="409" width="3" height="5" fill="#fff"/>
<rect x="154" y="394" width="3" height="4" fill="#fff"/>
<rect x="154" y="409" width="3" height="5" fill="#fff"/>
<rect x="159" y="394" width="4" height="4" fill="#fff"/>
<rect x="159" y="409" width="4" height="5" fill="#fff"/>
<rect x="165" y="394" width="4" height="4" fill="#fff"/>
<rect x="165" y="409" width="4" height="5" fill="#fff"/>
<rect x="171" y="394" width="3" height="4" fill="#fff"/>
<rect x="171" y="409" width="3" height="5" fill="#fff"/>
<rect x="177" y="394" width="3" height="4" fill="#fff"/>
<rect x="177" y="409" width="3" height="5" fill="#fff"/>
<rect x="183" y="394" width="3" height="4" fill="#fff"/>
<rect x="183" y="409" width="3" height="5" fill="#fff"/>
<rect x="112" y="402" width="33" height="4" fill="#fff"/>
<rect x="151" y="402" width="32" height="4" fill="#fff"/>
<polygon points="103.80,401.30 106.60,402.80 106.60,405.30 103.80,406.80" fill="#fff" shape-rendering="geometricPrecision"/>
<rect x="194" y="391" width="84" height="25" fill="#000"/>
<rect x="197" y="394" width="3" height="4" fill="#fff"/>
<rect x="197" y="409" width="3" height="5" fill="#fff"/>
<rect x="203" y="394" width="3" height="4" fill="#fff"/>
<rect x="203" y="409" width="3" height="5" fill="#fff"/>
<rect x="209" y="394" width="3" height="4" fill="#fff"/>
<rect x="209" y="409" width="3" height="5" fill="#fff"/>
<rect x="215" y="394" width="3" height="4" fill="#fff"/>
<rect x="215" y="409" width="3" height="5" fill="#fff"/>
<rect x="220" y="394" width="4" height="4" fill="#fff"/>
<rect x="220" y="409" width="4" height="5" fill="#fff"/>
<rect x="226" y="394" width="4" height="4" fill="#fff"/>
<rect x="226" y="409" width="4" height="5" fill="#fff"/>
<rect x="232" y="394" width="3" height="4" fill="#fff"/>
<rect x="232" y="409" width="3" height="5" fill="#fff"/>
<rect x="238" y="394" width="3" height="4" fill="#fff"/>
<rect x="238" y="409" width="3" height="5" fill="#fff"/>
<rect x="244" y="394" width="3" height="4" fill="#fff"/>
<rect x="244" y="409" width="3" height="5" fill="#fff"/>
<rect x="250" y="394" width="3" height="4" fill="#fff"/>
<rect x="250" y="409" width="3" height="5" fill="#fff"/>
<rect x="256" y="394" width="3" height="4" fill="#fff"/>
<rect x="256" y="409" width="3" height="5" fill="#fff"/>
<rect x="261" y="394" width="4" height="4" fill="#fff"/>
<rect x="261" y="409" width="4" height="5" fill="#fff"/>
<rect x="267" y="394" width="4" height="4" fill="#fff"/>
<rect x="267" y="409" width="4" height="5" fill="#fff"/>
<rect x="273" y="394" width="3" height="4" fill="#fff"/>
<rect x="273" y="409" width="3" height="5" fill="#fff"/>
<rect x="202" y="402" width="33" height="4" fill="#fff"/>
<rect x="241" y="402" width="32" height="4" fill="#fff"/>
<polygon points="193.80,401.30 196.60,402.80 196.60,405.30 193.80,406.80" fill="#fff" shape-rendering="geometricPrecision"/>
<rect x="104" y="417" width="84" height="25" fill="#000"/>
<rect x="107" y="420" width="3" height="5" fill="#fff"/>
<rect x="107" y="435" width="3" height="5" fill="#fff"/>
<rect x="113" y="420" width="3" height="5" fill="#fff"/>
<rect x="113" y="435" width="3" height="5" fill="#fff"/>
<rect x="118" y="420" width="4" height="5" fill="#fff"/>
<rect x="118" y="435" width="4" height="5" fill="#fff"/>
<rect x="124" y="420" width="4" height="5" fill="#fff"/>
<rect x="124" y="435" width="4" height="5" fill="#fff"/>
<rect x="130" y="420" width="4" height="5" fill="#fff"/>
<rect x="130" y="435" width="4" height="5" fill="#fff"/>
<rect x="136" y="420" width="3" height="5" fill="#fff"/>
<rect x="136" y="435" width="3" height="5" fill="#fff"/>
<rect x="142" y="420" width="3" height="5" fill="#fff"/>
<rect x="142" y="435" width="3" height="5" fill="#fff"/>
<rect x="148" y="420" width="3" height="5" fill="#fff"/>
<rect x="148" y="435" width="3" height="5" fill="#fff"/>
<rect x="154" y="420" width="3" height="5" fill="#fff"/>
<rect x="154" y="435" width="3" height="5" fill="#fff"/>
<rect x="159" y="420" width="4" height="5" fill="#fff"/>
<rect x="159" y="435" width="4" height="5" fill="#fff"/>
<rect x="165" y="420" width="4" height="5" fill="#fff"/>
<rect x="165" y="435" width="4" height="5" fill="#fff"/>
<rect x="171" y="420" width="3" height="5" fill="#fff"/>
<rect x="171" y="435" width="3" height="5" fill="#fff"/>
<rect x="177" y="420" width="3" height="5" fill="#fff"/>
<rect x="177" y="435" width="3" height="5" fill="#fff"/>
<rect x="183" y="420" width="3" height="5" fill="#fff"/>
<rect x="183" y="435" width="3" height="5" fill="#fff"/>
<rect x="112" y="428" width="33" height="5" fill="#fff"/>
<rect x="151" y="428" width="32" height="5" fill="#fff"/>
<polygon points="103.80,427.40 106.60,428.90 106.60,431.40 103.80,432.90" fill="#fff" shape-rendering="geometricPrecision"/>
<rect x="194" y="417" width="84" height="25" fill="#000"/>
<rect x="197" y="420" width="3" height="5" fill="#fff"/>
<rect x="197" y="435" width="3" height="5" fill="#fff"/>
<rect x="203" y="420" width="3" height="5" fill="#fff"/>
<rect x="203" y="435" width="3" height="5" fill="#fff"/>
<rect x="209" y="420" width="3" height="5" fill="#fff"/>
<rect x="209" y="435" width="3" height="5" fill="#fff"/>
<rect x="215" y="420" width="3" height="5" fill="#fff"/>
<rect x="215" y="435" width="3" height="5" fill="#fff"/>
<rect x="220" y="420" width="4" height="5" fill="#fff"/>
<rect x="220" y="435" width="4" height="5" fill="#fff"/>
<rect x="226" y="420" width="4" height="5" fill="#fff"/>
<rect x="226" y="435" width="4" height="5" fill="#fff"/>
<rect x="232" y="420" width="3" height="5" fill="#fff"/>
<rect x="232" y="435" width="3" height="5" fill="#fff"/>
<rect x="238" y="420" width="3" height="5" fill="#fff"/>
<rect x="238" y="435" width="3" height="5" fill="#fff"/>
<rect x="244" y="420" width="3" height="5" fill="#fff"/>
<rect x="244" y="435" width="3" height="5" fill="#fff"/>
<rect x="250" y="420" width="3" height="5" fill="#fff"/>
<rect x="250" y="435" width="3" height="5" fill="#fff"/>
<rect x="256" y="420" width="3" height="5" fill="#fff"/>
<rect x="256" y="435" width="3" height="5" fill="#fff"/>
<rect x="261" y="420" width="4" height="5" fill="#fff"/>
<rect x="261" y="435" width="4" height="5" fill="#fff"/>
<rect x="267" y="420" width="4" height="5" fill="#fff"/>
<rect x="267" y="435" width="4" height="5" fill="#fff"/>
<rect x="273" y="420" width="3" height="5" fill="#fff"/>
<rect x="273" y="435" width="3" height="5" fill="#fff"/>
<rect x="202" y="428" width="33" height="5" fill="#fff"/>
<rect x="241" y="428" width="32" height="5" fill="#fff"/>
<polygon points="193.80,427.40 196.60,428.90 196.60,431.40 193.80,432.90" fill="#fff" shape-rendering="geometricPrecision"/>
<rect x="104" y="444" width="84" height="24" fill="#000"/>
<rect x="107" y="446" width="3" height="5" fill="#fff"/>
<rect x="107" y="461" width="3" height="5" fill="#fff"/>
<rect x="113" y="446" width="3" height="5" fill="#fff"/>
<rect x="113" y="461" width="3" height="5" fill="#fff"/>
<rect x="118" y="446" width="4" height="5" fill="#fff"/>
<rect x="118" y="461" width="4" height="5" fill="#fff"/>
<rect x="124" y="446" width="4" height="5" fill="#fff"/>
<rect x="124" y="461" width="4" height="5" fill="#fff"/>
<rect x="130" y="446" width="4" height="5" fill="#fff"/>
<rect x="130" y="461" width="4" height="5" fill="#fff"/>
<rect x="136" y="446" width="3" height="5" fill="#fff"/>
<rect x="136" y="461" width="3" height="5" fill="#fff"/>
<rect x="142" y="446" width="3" height="5" fill="#fff"/>
<rect x="142" y="461" width="3" height="5" fill="#fff"/>
<rect x="148" y="446" width="3" height="5" fill="#fff"/>
<rect x="148" y="461" width="3" height="5" fill="#fff"/>
<rect x="154" y="446" width="3" height="5" fill="#fff"/>
<rect x="154" y="461" width="3" height="5" fill="#fff"/>
<rect x="159" y="446" width="4" height="5" fill="#fff"/>
<rect x="159" y="461" width="4" height="5" fill="#fff"/>
<rect x="165" y="446" width="4" height="5" fill="#fff"/>
<rect x="165" y="461" width="4" height="5" fill="#fff"/>
<rect x="171" y="446" width="3" height="5" fill="#fff"/>
<rect x="171" y="461" width="3" height="5" fill="#fff"/>
<rect x="177" y="446" width="3" height="5" fill="#fff"/>
<rect x="177" y="461" width="3" height="5" fill="#fff"/>
<rect x="183" y="446" width="3" height="5" fill="#fff"/>
<rect x="183" y="461" width="3" height="5" fill="#fff"/>
<rect x="112" y="454" width="33" height="5" fill="#fff"/>
<rect x="151" y="454" width="32" height="5" fill="#fff"/>
<polygon points="103.80,453.50 106.60,455.00 106.60,457.50 103.80,459.00" fill="#fff" shape-rendering="geometricPrecision"/>
<rect x="194" y="444" width="84" height="24" fill="#000"/>
<rect x="197" y="446" width="3" height="5" fill="#fff"/>
<rect x="197" y="461" width="3" height="5" fill="#fff"/>
<rect x="203" y="446" width="3" height="5" fill="#fff"/>
<rect x="203" y="461" width="3" height="5" fill="#fff"/>
<rect x="209" y="446" width="3" height="5" fill="#fff"/>
<rect x="209" y="461" width="3" height="5" fill="#fff"/>
<rect x="215" y="446" width="3" height="5" fill="#fff"/>
<rect x="215" y="461" width="3" height="5" fill="#fff"/>
<rect x="220" y="446" width="4" height="5" fill="#fff"/>
<rect x="220" y="461" width="4" height="5" fill="#fff"/>
<rect x="226" y="446" width="4" height="5" fill="#fff"/>
<rect x="226" y="461" width="4" height="5" fill="#fff"/>
<rect x="232" y="446" width="3" height="5" fill="#fff"/>
<rect x="232" y="461" width="3" height="5" fill="#fff"/>
<rect x="238" y="446" width="3" height="5" fill="#fff"/>
<rect x="238" y="461" width="3" height="5" fill="#fff"/>
<rect x="244" y="446" width="3" height="5" fill="#fff"/>
<rect x="244" y="461" width="3" height="5" fill="#fff"/>
<rect x="250" y="446" width="3" height="5" fill="#fff"/>
<rect x="250" y="461" width="3" height="5" fill="#fff"/>
<rect x="256" y="446" width="3" height="5" fill="#fff"/>
<rect x="256" y="461" width="3" height="5" fill="#fff"/>
<rect x="261" y="446" width="4" height="5" fill="#fff"/>
<rect x="261" y="461" width="4" height="5" fill="#fff"/>
<rect x="267" y="446" width="4" height="5" fill="#fff"/>
<rect x="267" y="461" width="4" height="5" fill="#fff"/>
<rect x="273" y="446" width="3" height="5" fill="#fff"/>
<rect x="273" y="461" width="3" height="5" fill="#fff"/>
<rect x="202" y="454" width="33" height="5" fill="#fff"/>
<rect x="241" y="454" width="32" height="5" fill="#fff"/>
<polygon points="193.80,453.50 196.60,455.00 196.60,457.50 193.80,459.00" fill="#fff" shape-rendering="geometricPrecision"/>
<rect x="104" y="470" width="84" height="24" fill="#000"/>
<rect x="107" y="472" width="3" height="5" fill="#fff"/>
<rect x="107" y="487" width="3" height="5" fill="#fff"/>
<rect x="113" y="472" width="3" height="5" fill="#fff"/>
<rect x="113" y="487" width="3" height="5" fill="#fff"/>
<rect x="118" y="472" width="4" height="5" fill="#fff"/>
<rect x="118" y="487" width="4" height="5" fill="#fff"/>
<rect x="124" y="472" width="4" height="5" fill="#fff"/>
<rect x="124" y="487" width="4" height="5" fill="#fff"/>
<rect x="130" y="472" width="4" height="5" fill="#fff"/>
<rect x="130" y="487" width="4" height="5" fill="#fff"/>
<rect x="136" y="472" width="3" height="5" fill="#fff"/>
<rect x="136" y="487" width="3" height="5" fill="#fff"/>
<rect x="142" y="472" width="3" height="5" fill="#fff"/>
<rect x="142" y="487" width="3" height="5" fill="#fff"/>
<rect x="148" y="472" width="3" height="5" fill="#fff"/>
<rect x="148" y="487" width="3" height="5" fill="#fff"/>
<rect x="154" y="472" width="3" height="5" fill="#fff"/>
<rect x="154" y="487" width="3" height="5" fill="#fff"/>
<rect x="159" y="472" width="4" height="5" fill="#fff"/>
<rect x="159" y="487" width="4" height="5" fill="#fff"/>
<rect x="165" y="472" width="4" height="5" fill="#fff"/>
<rect x="165" y="487" width="4" height="5" fill="#fff"/>
<rect x="171" y="472" width="3" height="5" fill="#fff"/>
<rect x="171" y="487" width="3" height="5" fill="#fff"/>
<rect x="177" y="472" width="3" height="5" fill="#fff"/>
<rect x="177" y="487" width="3" height="5" fill="#fff"/>
<rect x="183" y="472" width="3" height="5" fill="#fff"/>
<rect x="183" y="487" width="3" height="5" fill="#fff"/>
<rect x="112" y="480" width="33" height="5" fill="#fff"/>
<rect x="151" y="480" width="32" height="5" fill="#fff"/>
<polygon points="103.80,479.60 106.60,481.10 106.60,483.60 103.80,485.10" fill="#fff" shape-rendering="geometricPrecision"/>
<rect x="194" y="470" width="84" height="24" fill="#000"/>
<rect x="197" y="472" width="3" height="5" fill="#fff"/>
<rect x="197" y="487" width="3" height="5" fill="#fff"/>
<rect x="203" y="472" width="3" height="5" fill="#fff"/>
<rect x="203" y="487" width="3" height="5" fill="#fff"/>
<rect x="209" y="472" width="3" height="5" fill="#fff"/>
<rect x="209" y="487" width="3" height="5" fill="#fff"/>
<rect x="215" y="472" width="3" height="5" fill="#fff"/>
<rect x="215" y="487" width="3" height="5" fill="#fff"/>
<rect x="220" y="472" width="4" height="5" fill="#fff"/>
<rect x="220" y="487" width="4" height="5" fill="#fff"/>
<rect x="226" y="472" width="4" height="5" fill="#fff"/>
<rect x="226" y="487" width="4" height="5" fill="#fff"/>
<rect x="232" y="472" width="3" height="5" fill="#fff"/>
<rect x="232" y="487" width="3" height="5" fill="#fff"/>
<rect x="238" y="472" width="3" height="5" fill="#fff"/>
<rect x="238" y="487" width="3" height="5" fill="#fff"/>
<rect x="244" y="472" width="3" height="5" fill="#fff"/>
<rect x="244" y="487" width="3" height="5" fill="#fff"/>
<rect x="250" y="472" width="3" height="5" fill="#fff"/>
<rect x="250" y="487" width="3" height="5" fill="#fff"/>
<rect x="256" y="472" width="3" height="5" fill="#fff"/>
<rect x="256" y="487" width="3" height="5" fill="#fff"/>
<rect x="261" y="472" width="4" height="5" fill="#fff"/>
<rect x="261" y="487" width="4" height="5" fill="#fff"/>
<rect x="267" y="472" width="4" height="5" fill="#fff"/>
<rect x="267" y="487" width="4" height="5" fill="#fff"/>
<rect x="273" y="472" width="3" height="5" fill="#fff"/>
<rect x="273" y="487" width="3" height="5" fill="#fff"/>
<rect x="202" y="480" width="33" height="5" fill="#fff"/>
<rect x="241" y="480" width="32" height="5" fill="#fff"/>
<polygon points="193.80,479.60 196.60,481.10 196.60,483.60 193.80,485.10" fill="#fff" shape-rendering="geometricPrecision"/>
<rect x="104" y="496" width="84" height="24" fill="#000"/>
<rect x="107" y="498" width="3" height="5" fill="#fff"/>
<rect x="107" y="513" width="3" height="5" fill="#fff"/>
<rect x="113" y="498" width="3" height="5" fill="#fff"/>
<rect x="113" y="513" width="3" height="5" fill="#fff"/>
<rect x="118" y="498" width="4" height="5" fill="#fff"/>
<rect x="118" y="513" width="4" height="5" fill="#fff"/>
<rect x="124" y="498" width="4" height="5" fill="#fff"/>
<rect x="124" y="513" width="4" height="5" fill="#fff"/>
<rect x="130" y="498" width="4" height="5" fill="#fff"/>
<rect x="130" y="513" width="4" height="5" fill="#fff"/>
<rect x="136" y="498" width="3" height="5" fill="#fff"/>
<rect x="136" y="513" width="3" height="5" fill="#fff"/>
<rect x="142" y="498" width="3" height="5" fill="#fff"/>
<rect x="142" y="513" width="3" height="5" fill="#fff"/>
<rect x="148" y="498" width="3" height="5" fill="#fff"/>
<rect x="148" y="513" width="3" height="5" fill="#fff"/>
<rect x="154" y="498" width="3" height="5" fill="#fff"/>
<rect x="154" y="513" width="3" height="5" fill="#fff"/>
<rect x="159" y="498" width="4" height="5" fill="#fff"/>
<rect x="159" y="513" width="4" height="5" fill="#fff"/>
<rect x="165" y="498" width="4" height="5" fill="#fff"/>
<rect x="165" y="513" width="4" height="5" fill="#fff"/>
<rect x="171" y="498" width="3" height="5" fill="#fff"/>
<rect x="171" y="513" width="3" height="5" fill="#fff"/>
<rect x="177" y="498" width="3" height="5" fill="#fff"/>
<rect x="177" y="513" width="3" height="5" fill="#fff"/>
<rect x="183" y="498" width="3" height="5" fill="#fff"/>
<rect x="183" y="513" width="3" height="5" fill="#fff"/>
<rect x="112" y="506" width="33" height="5" fill="#fff"/>
<rect x="151" y="506" width="32" height="5" fill="#fff"/>
<polygon points="103.80,505.70 106.60,507.20 106.60,509.70 103.80,511.20" fill="#fff" shape-rendering="geometricPrecision"/>
<rect x="194" y="496" width="84" height="24" fill="#000"/>
<rect x="197" y="498" width="3" height="5" fill="#fff"/>
<rect x="197" y="513" width="3" height="5" fill="#fff"/>
<rect x="203" y="498" width="3" height="5" fill="#fff"/>
<rect x="203" y="513" width="3" height="5" fill="#fff"/>
<rect x="209" y="498" width="3" height="5" fill="#fff"/>
<rect x="209" y="513" width="3" height="5" fill="#fff"/>
<rect x="215" y="498" width="3" height="5" fill="#fff"/>
<rect x="215" y="513" width="3" height="5" fill="#fff"/>
<rect x="220" y="498" width="4" height="5" fill="#fff"/>
<rect x="220" y="513" width="4" height="5" fill="#fff"/>
<rect x="226" y="498" width="4" height="5" fill="#fff"/>
<rect x="226" y="513" width="4" height="5" fill="#fff"/>
<rect x="232" y="498" width="3" height="5" fill="#fff"/>
<rect x="232" y="513" width="3" height="5" fill="#fff"/>
<rect x="238" y="498" width="3" height="5" fill="#fff"/>
<rect x="238" y="513" width="3" height="5" fill="#fff"/>
<rect x="244" y="498" width="3" height="5" fill="#fff"/>
<rect x="244" y="513" width="3" height="5" fill="#fff"/>
<rect x="250" y="498" width="3" height="5" fill="#fff"/>
<rect x="250" y="513" width="3" height="5" fill="#fff"/>
<rect x="256" y="498" width="3" height="5" fill="#fff"/>
<rect x="256" y="513" width="3" height="5" fill="#fff"/>
<rect x="261" y="498" width="4" height="5" fill="#fff"/>
<rect x="261" y="513" width="4" height="5" fill="#fff"/>
<rect x="267" y="498" width="4" height="5" fill="#fff"/>
<rect x="267" y="513" width="4" height="5" fill="#fff"/>
<rect x="273" y="498" width="3" height="5" fill="#fff"/>
<rect x="273" y="513" width="3" height="5" fill="#fff"/>
<rect x="202" y="506" width="33" height="5" fill="#fff"/>
<rect x="241" y="506" width="32" height="5" fill="#fff"/>
<polygon points="193.80,505.70 196.60,507.20 196.60,509.70 193.80,511.20" fill="#fff" shape-rendering="geometricPrecision"/>
<rect x="104" y="261" width="84" height="24" fill="#000"/>
<rect x="108" y="263" width="4" height="1" fill="#fff"/>
<rect x="108" y="281" width="4" height="1" fill="#fff"/>
<rect x="114" y="263" width="4" height="1" fill="#fff"/>
<rect x="114" y="281" width="4" height="1" fill="#fff"/>
<rect x="120" y="263" width="3" height="1" fill="#fff"/>
<rect x="120" y="281" width="3" height="1" fill="#fff"/>
<rect x="126" y="263" width="3" height="1" fill="#fff"/>
<rect x="126" y="281" width="3" height="1" fill="#fff"/>
<rect x="132" y="263" width="3" height="1" fill="#fff"/>
<rect x="132" y="281" width="3" height="1" fill="#fff"/>
<rect x="155" y="263" width="3" height="1" fill="#fff"/>
<rect x="155" y="281" width="3" height="1" fill="#fff"/>
<rect x="161" y="263" width="3" height="1" fill="#fff"/>
<rect x="161" y="281" width="3" height="1" fill="#fff"/>
<rect x="167" y="263" width="3" height="1" fill="#fff"/>
<rect x="167" y="281" width="3" height="1" fill="#fff"/>
<rect x="173" y="263" width="3" height="1" fill="#fff"/>
<rect x="173" y="281" width="3" height="1" fill="#fff"/>
<rect x="179" y="263" width="3" height="1" fill="#fff"/>
<rect x="179" y="281" width="3" height="1" fill="#fff"/>
<rect x="185" y="263" width="3" height="1" fill="#fff"/>
<rect x="185" y="281" width="3" height="1" fill="#fff"/>
<rect x="106" y="264" width="1" height="1" fill="#fff"/>
<rect x="185" y="264" width="1" height="1" fill="#fff"/>
<rect x="106" y="281" width="1" height="1" fill="#fff"/>
<rect x="185" y="281" width="1" height="1" fill="#fff"/>
<rect x="142" y="263" width="3" height="5" fill="#fff"/>
<rect x="142" y="278" width="3" height="5" fill="#fff"/>
<rect x="148" y="263" width="3" height="5" fill="#fff"/>
<rect x="148" y="278" width="3" height="5" fill="#fff"/>
<rect x="138" y="271" width="7" height="5" fill="#fff"/>
<rect x="151" y="271" width="3" height="5" fill="#fff"/>
<polygon points="103.80,270.30 106.00,271.30 106.00,274.30 103.80,275.30" fill="#fff" shape-rendering="geometricPrecision"/>
<rect x="107.70" y="265.70" width="29.20" height="13.90" rx="2.5" fill="#fff" shape-rendering="geometricPrecision"/>
<text transform="translate(111.00,277.00) scale(0.75,1)" x="0.00 10.67 22.40" font-size="13.6" fill="#000" stroke="#000" stroke-width="0.3">TAG</text>
<rect x="156.20" y="265.80" width="28.90" height="14.60" rx="2.5" fill="#fff" shape-rendering="geometricPrecision"/>
<text transform="translate(159.30,277.80) scale(0.75,1)" x="0.00 11.87 21.07" font-size="13.3" fill="#000" stroke="#000" stroke-width="0.3">U13</text>
<rect x="104" y="287" width="84" height="24" fill="#000"/>
<rect x="108" y="290" width="4" height="1" fill="#fff"/>
<rect x="108" y="308" width="4" height="1" fill="#fff"/>
<rect x="114" y="290" width="4" height="1" fill="#fff"/>
<rect x="114" y="308" width="4" height="1" fill="#fff"/>
<rect x="120" y="290" width="3" height="1" fill="#fff"/>
<rect x="120" y="308" width="3" height="1" fill="#fff"/>
<rect x="126" y="290" width="3" height="1" fill="#fff"/>
<rect x="126" y="308" width="3" height="1" fill="#fff"/>
<rect x="132" y="290" width="3" height="1" fill="#fff"/>
<rect x="132" y="308" width="3" height="1" fill="#fff"/>
<rect x="155" y="290" width="3" height="1" fill="#fff"/>
<rect x="155" y="308" width="3" height="1" fill="#fff"/>
<rect x="161" y="290" width="3" height="1" fill="#fff"/>
<rect x="161" y="308" width="3" height="1" fill="#fff"/>
<rect x="167" y="290" width="3" height="1" fill="#fff"/>
<rect x="167" y="308" width="3" height="1" fill="#fff"/>
<rect x="173" y="290" width="3" height="1" fill="#fff"/>
<rect x="173" y="308" width="3" height="1" fill="#fff"/>
<rect x="179" y="290" width="3" height="1" fill="#fff"/>
<rect x="179" y="308" width="3" height="1" fill="#fff"/>
<rect x="185" y="290" width="3" height="1" fill="#fff"/>
<rect x="185" y="308" width="3" height="1" fill="#fff"/>
<rect x="106" y="290" width="1" height="1" fill="#fff"/>
<rect x="185" y="290" width="1" height="1" fill="#fff"/>
<rect x="106" y="307" width="1" height="1" fill="#fff"/>
<rect x="185" y="307" width="1" height="1" fill="#fff"/>
<rect x="142" y="289" width="3" height="5" fill="#fff"/>
<rect x="142" y="304" width="3" height="5" fill="#fff"/>
<rect x="148" y="289" width="3" height="5" fill="#fff"/>
<rect x="148" y="304" width="3" height="5" fill="#fff"/>
<rect x="138" y="297" width="7" height="5" fill="#fff"/>
<rect x="151" y="297" width="3" height="5" fill="#fff"/>
<polygon points="103.80,296.40 106.00,297.40 106.00,300.40 103.80,301.40" fill="#fff" shape-rendering="geometricPrecision"/>
<rect x="107.70" y="291.80" width="29.20" height="13.90" rx="2.5" fill="#fff" shape-rendering="geometricPrecision"/>
<text transform="translate(111.00,303.10) scale(0.75,1)" x="0.00 10.67 22.40" font-size="13.6" fill="#000" stroke="#000" stroke-width="0.3">TAG</text>
<rect x="156.20" y="291.90" width="28.90" height="14.60" rx="2.5" fill="#fff" shape-rendering="geometricPrecision"/>
<text transform="translate(159.30,303.90) scale(0.75,1)" x="0.00 11.87 21.07" font-size="13.3" fill="#000" stroke="#000" stroke-width="0.3">U14</text>
<rect x="166" y="360" width="48" height="18" fill="#000"/>
<rect x="165" y="361" width="50" height="16" fill="#000"/>
<rect x="167" y="362" width="46" height="14" fill="#fff"/>
<text transform="translate(167.30,372.70) scale(0.75,1)" x="0.00 12.67 25.07 37.73 50.80" font-size="14" fill="#000" stroke="#000" stroke-width="0.3">CACHE</text>
<rect x="120" y="406" width="57" height="18" fill="#000"/>
<rect x="119" y="407" width="59" height="16" fill="#000"/>
<rect x="121" y="408" width="55" height="14" fill="#fff"/>
<text transform="translate(124.30,419.90) scale(0.75,1)" x="0.00 11.87 24.13 36.27 46.27 54.80" font-size="14" fill="#000" stroke="#000" stroke-width="0.3">BANK 0</text>
<rect x="210" y="405" width="57" height="19" fill="#000"/>
<rect x="209" y="406" width="59" height="17" fill="#000"/>
<rect x="211" y="407" width="55" height="15" fill="#fff"/>
<text transform="translate(213.20,419.90) scale(0.75,1)" x="0.00 12.13 25.07 36.80 47.73 55.47" font-size="14" fill="#000" stroke="#000" stroke-width="0.3">BANK 1</text>
<rect x="21.10" y="16.40" width="31.60" height="16.30" rx="2.5" fill="#fff" stroke="#000" stroke-width="2" shape-rendering="geometricPrecision"/>
<text transform="translate(24.50,28.32) scale(0.75,1)" x="0.00 10.93 22.40" font-size="13.6" fill="#000" stroke="#000" stroke-width="0.3">JP1</text>
<polygon points="35.80,40.00 33.91,32.70 33.91,30.50 37.99,30.50 37.99,32.70" fill="#fff" shape-rendering="geometricPrecision"/>
<polyline points="33.91,32.70 35.80,40.00 37.99,32.70" fill="none" stroke="#000" stroke-width="2.0" stroke-linejoin="round" stroke-linecap="butt" shape-rendering="geometricPrecision"/>
<polyline points="35.80,38.50 35.80,46.00" fill="none" stroke="#000" stroke-width="3" stroke-linejoin="round" stroke-linecap="butt" shape-rendering="geometricPrecision"/>
<polyline points="35.80,45.00 35.80,50.50" fill="none" stroke="#000" stroke-width="1.6" stroke-linejoin="round" stroke-linecap="butt" shape-rendering="geometricPrecision"/>
<rect x="32" y="50" width="7" height="26" fill="#000"/>
<rect x="34" y="51" width="4" height="1" fill="#fff"/>
<rect x="34" y="52" width="1" height="1" fill="#fff"/>
<rect x="37" y="52" width="1" height="1" fill="#fff"/>
<rect x="34" y="53" width="1" height="1" fill="#fff"/>
<rect x="37" y="53" width="1" height="1" fill="#fff"/>
<rect x="34" y="54" width="4" height="1" fill="#fff"/>
<rect x="34" y="55" width="4" height="1" fill="#fff"/>
<rect x="34" y="56" width="4" height="1" fill="#fff"/>
<rect x="34" y="57" width="1" height="1" fill="#fff"/>
<rect x="34" y="58" width="4" height="1" fill="#fff"/>
<rect x="34" y="59" width="4" height="1" fill="#fff"/>
<rect x="34" y="60" width="4" height="1" fill="#fff"/>
<rect x="34" y="61" width="1" height="1" fill="#fff"/>
<rect x="34" y="62" width="4" height="1" fill="#fff"/>
<rect x="34" y="63" width="4" height="1" fill="#fff"/>
<rect x="34" y="64" width="4" height="1" fill="#fff"/>
<rect x="34" y="65" width="1" height="1" fill="#fff"/>
<rect x="34" y="66" width="4" height="1" fill="#fff"/>
<rect x="34" y="67" width="4" height="1" fill="#fff"/>
<rect x="34" y="68" width="4" height="1" fill="#fff"/>
<rect x="34" y="69" width="1" height="1" fill="#fff"/>
<rect x="34" y="70" width="4" height="2" fill="#fff"/>
<rect x="34" y="72" width="4" height="1" fill="#fff"/>
<rect x="34" y="73" width="4" height="1" fill="#fff"/>
<rect x="34" y="74" width="4" height="1" fill="#fff"/>
<rect x="32" y="81" width="7" height="30" fill="#000"/>
<rect x="34" y="83" width="3" height="3" fill="#fff"/>
<rect x="33" y="87" width="5" height="1" fill="#fff"/>
<rect x="33" y="93" width="5" height="1" fill="#fff"/>
<rect x="33" y="98" width="5" height="2" fill="#fff"/>
<rect x="33" y="104" width="5" height="2" fill="#fff"/>
<rect x="24.00" y="125.00" width="24.00" height="16.30" rx="2.5" fill="#fff" stroke="#000" stroke-width="2" shape-rendering="geometricPrecision"/>
<text transform="translate(27.90,136.80) scale(0.75,1)" x="0.00 10.80" font-size="13.6" fill="#000" stroke="#000" stroke-width="0.3">J1</text>
<rect x="23" y="126" width="3" height="15" fill="#000"/>
<polygon points="35.80,119.00 33.50,125.60 33.50,127.80 38.00,127.80 38.00,125.60" fill="#fff" shape-rendering="geometricPrecision"/>
<polyline points="33.50,125.60 35.80,119.00 38.00,125.60" fill="none" stroke="#000" stroke-width="2.0" stroke-linejoin="round" stroke-linecap="butt" shape-rendering="geometricPrecision"/>
<polyline points="35.80,110.50 35.80,121.50" fill="none" stroke="#000" stroke-width="3" stroke-linejoin="round" stroke-linecap="butt" shape-rendering="geometricPrecision"/>
<rect x="44" y="73" width="6" height="12" fill="#000"/>
<rect x="45" y="79" width="4" height="1" fill="#fff"/>
<rect x="56" y="73" width="7" height="12" fill="#000"/>
<rect x="57" y="79" width="5" height="1" fill="#fff"/>
<rect x="54.50" y="49.90" width="29.50" height="15.60" rx="2.5" fill="#fff" stroke="#000" stroke-width="2" shape-rendering="geometricPrecision"/>
<text transform="translate(57.85,61.47) scale(0.75,1)" x="0.00 10.93 22.40" font-size="13.6" fill="#000" stroke="#000" stroke-width="0.3">JP3</text>
<polyline points="55.50,65.50 49.00,70.50 46.80,73.50" fill="none" stroke="#000" stroke-width="3" stroke-linejoin="round" stroke-linecap="butt" shape-rendering="geometricPrecision"/>
<rect x="44.00" y="103.00" width="32.00" height="17.00" rx="2.5" fill="#fff" stroke="#000" stroke-width="2" shape-rendering="geometricPrecision"/>
<text transform="translate(47.70,114.90) scale(0.75,1)" x="0.00 10.93 22.40" font-size="13.6" fill="#000" stroke="#000" stroke-width="0.3">JP2</text>
<polygon points="59.50,90.00 57.24,104.00 57.24,106.20 62.36,106.20 62.36,104.00" fill="#fff" shape-rendering="geometricPrecision"/>
<polyline points="57.24,104.00 59.50,90.00 62.36,104.00" fill="none" stroke="#000" stroke-width="2.0" stroke-linejoin="round" stroke-linecap="butt" shape-rendering="geometricPrecision"/>
<polyline points="59.50,85.00 59.50,92.00" fill="none" stroke="#000" stroke-width="2.2" stroke-linejoin="round" stroke-linecap="butt" shape-rendering="geometricPrecision"/>
<rect x="95" y="167" width="19" height="7" fill="#000"/>
<rect x="96" y="168" width="1" height="1" fill="#fff"/>
<rect x="102" y="168" width="1" height="1" fill="#fff"/>
<rect x="106" y="168" width="2" height="1" fill="#fff"/>
<rect x="96" y="169" width="1" height="1" fill="#fff"/>
<rect x="98" y="169" width="3" height="1" fill="#fff"/>
<rect x="102" y="169" width="1" height="1" fill="#fff"/>
<rect x="106" y="169" width="2" height="1" fill="#fff"/>
<rect x="96" y="170" width="1" height="2" fill="#fff"/>
<rect x="98" y="170" width="3" height="2" fill="#fff"/>
<rect x="102" y="170" width="1" height="2" fill="#fff"/>
<rect x="106" y="170" width="2" height="2" fill="#fff"/>
<rect x="96" y="172" width="1" height="1" fill="#fff"/>
<rect x="102" y="172" width="1" height="1" fill="#fff"/>
<rect x="106" y="172" width="2" height="1" fill="#fff"/>
<rect x="130.20" y="160.80" width="33.40" height="16.70" rx="2.5" fill="#fff" stroke="#000" stroke-width="2" shape-rendering="geometricPrecision"/>
<text transform="translate(135.60,172.80) scale(0.75,1)" x="0.00 10.93 22.40" font-size="13.6" fill="#000" stroke="#000" stroke-width="0.3">JP7</text>
<polygon points="118.50,170.30 130.20,165.80 132.40,165.80 132.40,175.40 130.20,175.40" fill="#fff" shape-rendering="geometricPrecision"/>
<polyline points="130.20,165.80 118.50,170.30 130.20,175.40" fill="none" stroke="#000" stroke-width="2" stroke-linejoin="round" stroke-linecap="butt" shape-rendering="geometricPrecision"/>
<polyline points="113.50,170.30 121.00,170.30" fill="none" stroke="#000" stroke-width="2.4" stroke-linejoin="round" stroke-linecap="butt" shape-rendering="geometricPrecision"/>
<rect x="60" y="213" width="20" height="7" fill="#000"/>
<rect x="61" y="214" width="1" height="1" fill="#fff"/>
<rect x="66" y="214" width="3" height="1" fill="#fff"/>
<rect x="72" y="214" width="2" height="1" fill="#fff"/>
<rect x="78" y="214" width="1" height="1" fill="#fff"/>
<rect x="61" y="215" width="1" height="1" fill="#fff"/>
<rect x="63" y="215" width="2" height="1" fill="#fff"/>
<rect x="66" y="215" width="3" height="1" fill="#fff"/>
<rect x="72" y="215" width="2" height="1" fill="#fff"/>
<rect x="78" y="215" width="1" height="1" fill="#fff"/>
<rect x="61" y="216" width="1" height="2" fill="#fff"/>
<rect x="63" y="216" width="2" height="2" fill="#fff"/>
<rect x="66" y="216" width="3" height="2" fill="#fff"/>
<rect x="72" y="216" width="2" height="2" fill="#fff"/>
<rect x="78" y="216" width="1" height="2" fill="#fff"/>
<rect x="61" y="218" width="1" height="1" fill="#fff"/>
<rect x="66" y="218" width="3" height="1" fill="#fff"/>
<rect x="72" y="218" width="2" height="1" fill="#fff"/>
<rect x="78" y="218" width="1" height="1" fill="#fff"/>
<rect x="60" y="228" width="20" height="6" fill="#000"/>
<rect x="61" y="229" width="1" height="1" fill="#fff"/>
<rect x="66" y="229" width="3" height="1" fill="#fff"/>
<rect x="72" y="229" width="2" height="1" fill="#fff"/>
<rect x="78" y="229" width="1" height="1" fill="#fff"/>
<rect x="61" y="230" width="1" height="1" fill="#fff"/>
<rect x="63" y="230" width="2" height="1" fill="#fff"/>
<rect x="66" y="230" width="3" height="1" fill="#fff"/>
<rect x="72" y="230" width="2" height="1" fill="#fff"/>
<rect x="78" y="230" width="1" height="1" fill="#fff"/>
<rect x="61" y="231" width="1" height="1" fill="#fff"/>
<rect x="63" y="231" width="2" height="1" fill="#fff"/>
<rect x="66" y="231" width="3" height="1" fill="#fff"/>
<rect x="72" y="231" width="2" height="1" fill="#fff"/>
<rect x="78" y="231" width="1" height="1" fill="#fff"/>
<rect x="61" y="232" width="1" height="1" fill="#fff"/>
<rect x="66" y="232" width="3" height="1" fill="#fff"/>
<rect x="72" y="232" width="2" height="1" fill="#fff"/>
<rect x="78" y="232" width="1" height="1" fill="#fff"/>
<rect x="60" y="242" width="20" height="6" fill="#000"/>
<rect x="61" y="243" width="1" height="1" fill="#fff"/>
<rect x="66" y="243" width="3" height="1" fill="#fff"/>
<rect x="72" y="243" width="2" height="1" fill="#fff"/>
<rect x="78" y="243" width="1" height="1" fill="#fff"/>
<rect x="61" y="244" width="1" height="1" fill="#fff"/>
<rect x="63" y="244" width="2" height="1" fill="#fff"/>
<rect x="66" y="244" width="3" height="1" fill="#fff"/>
<rect x="72" y="244" width="2" height="1" fill="#fff"/>
<rect x="78" y="244" width="1" height="1" fill="#fff"/>
<rect x="61" y="245" width="1" height="1" fill="#fff"/>
<rect x="63" y="245" width="2" height="1" fill="#fff"/>
<rect x="66" y="245" width="3" height="1" fill="#fff"/>
<rect x="72" y="245" width="2" height="1" fill="#fff"/>
<rect x="78" y="245" width="1" height="1" fill="#fff"/>
<rect x="61" y="246" width="1" height="1" fill="#fff"/>
<rect x="66" y="246" width="3" height="1" fill="#fff"/>
<rect x="72" y="246" width="2" height="1" fill="#fff"/>
<rect x="78" y="246" width="1" height="1" fill="#fff"/>
<rect x="86.30" y="190.20" width="32.50" height="15.90" rx="2.5" fill="#fff" stroke="#000" stroke-width="2" shape-rendering="geometricPrecision"/>
<text transform="translate(91.15,201.92) scale(0.75,1)" x="0.00 10.93 22.40" font-size="13.6" fill="#000" stroke="#000" stroke-width="0.3">JP4</text>
<polyline points="87.50,206.00 82.00,210.00 78.50,214.00" fill="none" stroke="#000" stroke-width="3" stroke-linejoin="round" stroke-linecap="butt" shape-rendering="geometricPrecision"/>
<rect x="11.30" y="222.10" width="33.50" height="15.60" rx="2.5" fill="#fff" stroke="#000" stroke-width="2" shape-rendering="geometricPrecision"/>
<text transform="translate(16.65,233.67) scale(0.75,1)" x="0.00 10.93 22.40" font-size="13.6" fill="#000" stroke="#000" stroke-width="0.3">JP5</text>
<polygon points="55.50,231.00 44.80,227.30 42.60,227.30 42.60,233.70 44.80,233.70" fill="#fff" shape-rendering="geometricPrecision"/>
<polyline points="44.80,227.30 55.50,231.00 44.80,233.70" fill="none" stroke="#000" stroke-width="2.0" stroke-linejoin="round" stroke-linecap="butt" shape-rendering="geometricPrecision"/>
<polyline points="54.00,231.00 60.80,231.00" fill="none" stroke="#000" stroke-width="2.4" stroke-linejoin="round" stroke-linecap="butt" shape-rendering="geometricPrecision"/>
<rect x="32.50" y="255.20" width="31.10" height="16.00" rx="2.5" fill="#fff" stroke="#000" stroke-width="2" shape-rendering="geometricPrecision"/>
<text transform="translate(36.65,266.97) scale(0.75,1)" x="0.00 10.93 22.40" font-size="13.6" fill="#000" stroke="#000" stroke-width="0.3">JP6</text>
<polygon points="57.50,254.00 66.00,251.50 70.00,247.80 71.50,247.80 65.00,258.80 62.60,258.80 62.60,256.20 57.50,256.20" fill="#fff" shape-rendering="geometricPrecision"/>
<polyline points="57.50,255.00 65.00,252.50 69.50,247.80" fill="none" stroke="#000" stroke-width="2" stroke-linejoin="round" stroke-linecap="butt" shape-rendering="geometricPrecision"/>
<polyline points="63.80,259.00 66.00,253.50 71.50,247.80" fill="none" stroke="#000" stroke-width="2" stroke-linejoin="round" stroke-linecap="butt" shape-rendering="geometricPrecision"/>
<rect x="111" y="237" width="7" height="19" fill="#000"/>
<rect x="112" y="238" width="5" height="5" fill="#fff"/>
<rect x="113" y="239" width="3" height="3" fill="#000"/>
<rect x="114" y="240" width="1" height="1" fill="#fff"/>
<rect x="112" y="245" width="5" height="1" fill="#fff"/>
<rect x="112" y="249" width="5" height="2" fill="#fff"/>
<rect x="125.70" y="214.80" width="29.50" height="14.00" rx="2.5" fill="#fff" stroke="#000" stroke-width="2" shape-rendering="geometricPrecision"/>
<text transform="translate(130.30,226.10) scale(0.75,1)" x="0.00 10.93 22.40" font-size="13.6" fill="#000" stroke="#000" stroke-width="0.3">JP8</text>
<rect x="154" y="216" width="2" height="12" fill="#fff"/>
<polyline points="126.50,229.00 120.00,233.00 115.50,237.50" fill="none" stroke="#000" stroke-width="3" stroke-linejoin="round" stroke-linecap="butt" shape-rendering="geometricPrecision"/>
<rect x="200" y="250" width="13" height="7" fill="#000"/>
<rect x="201" y="255" width="11" height="1" fill="#fff"/>
<rect x="206" y="251" width="1" height="4" fill="#fff"/>
<rect x="199" y="262" width="14" height="7" fill="#000"/>
<rect x="200" y="263" width="1" height="1" fill="#fff"/>
<rect x="206" y="263" width="1" height="1" fill="#fff"/>
<rect x="211" y="263" width="1" height="1" fill="#fff"/>
<rect x="200" y="264" width="1" height="1" fill="#fff"/>
<rect x="206" y="264" width="1" height="1" fill="#fff"/>
<rect x="211" y="264" width="1" height="1" fill="#fff"/>
<rect x="200" y="265" width="1" height="1" fill="#fff"/>
<rect x="206" y="265" width="1" height="1" fill="#fff"/>
<rect x="211" y="265" width="1" height="1" fill="#fff"/>
<rect x="200" y="266" width="1" height="1" fill="#fff"/>
<rect x="206" y="266" width="1" height="1" fill="#fff"/>
<rect x="211" y="266" width="1" height="1" fill="#fff"/>
<rect x="200" y="267" width="1" height="1" fill="#fff"/>
<rect x="206" y="267" width="1" height="1" fill="#fff"/>
<rect x="211" y="267" width="1" height="1" fill="#fff"/>
<rect x="199" y="274" width="14" height="7" fill="#000"/>
<rect x="200" y="275" width="1" height="1" fill="#fff"/>
<rect x="206" y="275" width="1" height="1" fill="#fff"/>
<rect x="211" y="275" width="1" height="1" fill="#fff"/>
<rect x="200" y="276" width="1" height="1" fill="#fff"/>
<rect x="206" y="276" width="1" height="1" fill="#fff"/>
<rect x="211" y="276" width="1" height="1" fill="#fff"/>
<rect x="200" y="277" width="1" height="1" fill="#fff"/>
<rect x="206" y="277" width="1" height="1" fill="#fff"/>
<rect x="211" y="277" width="1" height="1" fill="#fff"/>
<rect x="200" y="278" width="1" height="1" fill="#fff"/>
<rect x="206" y="278" width="1" height="1" fill="#fff"/>
<rect x="211" y="278" width="1" height="1" fill="#fff"/>
<rect x="200" y="279" width="1" height="1" fill="#fff"/>
<rect x="206" y="279" width="1" height="1" fill="#fff"/>
<rect x="211" y="279" width="1" height="1" fill="#fff"/>
<rect x="220.50" y="227.00" width="31.30" height="14.20" rx="2.5" fill="#fff" stroke="#000" stroke-width="2" shape-rendering="geometricPrecision"/>
<text transform="translate(223.50,238.30) scale(0.75,1)" x="0.00 10.93 22.40" font-size="13.6" fill="#000" stroke="#000" stroke-width="0.3">JP9</text>
<polyline points="221.50,241.50 216.00,246.00 212.00,251.00" fill="none" stroke="#000" stroke-width="2.6" stroke-linejoin="round" stroke-linecap="butt" shape-rendering="geometricPrecision"/>
<rect x="228.50" y="248.30" width="39.30" height="15.60" rx="2.5" fill="#fff" stroke="#000" stroke-width="2" shape-rendering="geometricPrecision"/>
<text transform="translate(232.00,259.87) scale(0.75,1)" x="0.00 10.93 22.40 31.60" font-size="13.6" fill="#000" stroke="#000" stroke-width="0.3">JP10</text>
<polygon points="216.50,262.60 228.50,254.23 230.70,254.23 230.70,260.07 228.50,260.07" fill="#fff" shape-rendering="geometricPrecision"/>
<polyline points="228.50,254.23 216.50,262.60 228.50,260.07" fill="none" stroke="#000" stroke-width="2.0" stroke-linejoin="round" stroke-linecap="butt" shape-rendering="geometricPrecision"/>
<polyline points="212.50,264.60 217.50,262.20" fill="none" stroke="#000" stroke-width="2.4" stroke-linejoin="round" stroke-linecap="butt" shape-rendering="geometricPrecision"/>
<rect x="228.50" y="269.90" width="39.30" height="13.70" rx="2.5" fill="#fff" stroke="#000" stroke-width="2" shape-rendering="geometricPrecision"/>
<text transform="translate(232.00,280.52) scale(0.75,1)" x="0.00 10.93 22.40 31.60" font-size="13.6" fill="#000" stroke="#000" stroke-width="0.3">JP11</text>
<polygon points="219.50,276.80 228.50,274.25 230.70,274.25 230.70,280.25 228.50,280.25" fill="#fff" shape-rendering="geometricPrecision"/>
<polyline points="228.50,274.25 219.50,276.80 228.50,280.25" fill="none" stroke="#000" stroke-width="2.0" stroke-linejoin="round" stroke-linecap="butt" shape-rendering="geometricPrecision"/>
<polyline points="212.50,276.80 221.00,276.80" fill="none" stroke="#000" stroke-width="2.4" stroke-linejoin="round" stroke-linecap="butt" shape-rendering="geometricPrecision"/>
<rect x="260" y="288" width="7" height="19" fill="#000"/>
<rect x="265" y="289" width="1" height="1" fill="#fff"/>
<rect x="262" y="290" width="2" height="1" fill="#fff"/>
<rect x="265" y="290" width="1" height="1" fill="#fff"/>
<rect x="262" y="291" width="2" height="1" fill="#fff"/>
<rect x="265" y="291" width="1" height="1" fill="#fff"/>
<rect x="262" y="292" width="2" height="1" fill="#fff"/>
<rect x="265" y="292" width="1" height="1" fill="#fff"/>
<rect x="265" y="293" width="1" height="1" fill="#fff"/>
<rect x="261" y="294" width="5" height="1" fill="#fff"/>
<rect x="265" y="295" width="1" height="1" fill="#fff"/>
<rect x="265" y="296" width="1" height="1" fill="#fff"/>
<rect x="265" y="297" width="1" height="1" fill="#fff"/>
<rect x="265" y="298" width="1" height="1" fill="#fff"/>
<rect x="265" y="299" width="1" height="1" fill="#fff"/>
<rect x="261" y="300" width="5" height="1" fill="#fff"/>
<rect x="265" y="301" width="1" height="1" fill="#fff"/>
<rect x="265" y="302" width="1" height="1" fill="#fff"/>
<rect x="265" y="303" width="1" height="1" fill="#fff"/>
<rect x="265" y="304" width="1" height="1" fill="#fff"/>
<rect x="261" y="305" width="5" height="1" fill="#fff"/>
<rect x="270" y="288" width="7" height="19" fill="#000"/>
<rect x="271" y="289" width="1" height="1" fill="#fff"/>
<rect x="271" y="290" width="1" height="1" fill="#fff"/>
<rect x="273" y="290" width="2" height="1" fill="#fff"/>
<rect x="271" y="291" width="1" height="1" fill="#fff"/>
<rect x="273" y="291" width="2" height="1" fill="#fff"/>
<rect x="271" y="292" width="1" height="1" fill="#fff"/>
<rect x="273" y="292" width="2" height="1" fill="#fff"/>
<rect x="271" y="293" width="1" height="1" fill="#fff"/>
<rect x="271" y="294" width="5" height="1" fill="#fff"/>
<rect x="271" y="295" width="1" height="1" fill="#fff"/>
<rect x="271" y="296" width="1" height="1" fill="#fff"/>
<rect x="271" y="297" width="1" height="1" fill="#fff"/>
<rect x="271" y="298" width="1" height="1" fill="#fff"/>
<rect x="271" y="299" width="1" height="1" fill="#fff"/>
<rect x="271" y="300" width="5" height="1" fill="#fff"/>
<rect x="271" y="301" width="1" height="1" fill="#fff"/>
<rect x="271" y="302" width="1" height="1" fill="#fff"/>
<rect x="271" y="303" width="1" height="1" fill="#fff"/>
<rect x="271" y="304" width="1" height="1" fill="#fff"/>
<rect x="271" y="305" width="1" height="1" fill="#fff"/>
<rect x="274.50" y="263.10" width="39.30" height="16.40" rx="2.5" fill="#fff" stroke="#000" stroke-width="2" shape-rendering="geometricPrecision"/>
<text transform="translate(278.90,275.10) scale(0.75,1)" x="0.00 10.93 22.40 31.60" font-size="13.6" fill="#000" stroke="#000" stroke-width="0.3">JP17</text>
<polyline points="275.50,279.30 270.00,283.50 264.50,288.80" fill="none" stroke="#000" stroke-width="3" stroke-linejoin="round" stroke-linecap="butt" shape-rendering="geometricPrecision"/>
<rect x="292.00" y="289.30" width="39.80" height="16.50" rx="2.5" fill="#fff" stroke="#000" stroke-width="2" shape-rendering="geometricPrecision"/>
<text transform="translate(296.60,301.00) scale(0.75,1)" x="0.00 10.93 22.40 31.60" font-size="13.6" fill="#000" stroke="#000" stroke-width="0.3">JP16</text>
<polygon points="278.50,297.60 292.00,292.80 294.20,292.80 294.20,302.40 292.00,302.40" fill="#fff" shape-rendering="geometricPrecision"/>
<polyline points="292.00,292.80 278.50,297.60 292.00,302.40" fill="none" stroke="#000" stroke-width="2" stroke-linejoin="round" stroke-linecap="butt" shape-rendering="geometricPrecision"/>
<polyline points="276.50,297.60 282.00,297.60" fill="none" stroke="#000" stroke-width="2.6" stroke-linejoin="round" stroke-linecap="butt" shape-rendering="geometricPrecision"/>
<rect x="243" y="45" width="7" height="14" fill="#000"/>
<rect x="245" y="47" width="4" height="1" fill="#fff"/>
<rect x="245" y="52" width="4" height="1" fill="#fff"/>
<rect x="245" y="57" width="4" height="1" fill="#fff"/>
<rect x="266.30" y="43.90" width="39.30" height="16.80" rx="2.5" fill="#fff" stroke="#000" stroke-width="2" shape-rendering="geometricPrecision"/>
<text transform="translate(269.80,56.07) scale(0.75,1)" x="0.00 10.93 22.40 31.60" font-size="13.6" fill="#000" stroke="#000" stroke-width="0.3">JP12</text>
<polygon points="254.00,52.30 266.30,49.39 268.50,49.39 268.50,54.91 266.30,54.91" fill="#fff" shape-rendering="geometricPrecision"/>
<polyline points="266.30,49.39 254.00,52.30 266.30,54.91" fill="none" stroke="#000" stroke-width="2.0" stroke-linejoin="round" stroke-linecap="butt" shape-rendering="geometricPrecision"/>
<polyline points="249.50,52.30 256.00,52.30" fill="none" stroke="#000" stroke-width="2.4" stroke-linejoin="round" stroke-linecap="butt" shape-rendering="geometricPrecision"/>
<rect x="243" y="69" width="7" height="20" fill="#000"/>
<rect x="244" y="70" width="5" height="1" fill="#fff"/>
<rect x="244" y="71" width="1" height="1" fill="#fff"/>
<rect x="248" y="71" width="1" height="1" fill="#fff"/>
<rect x="244" y="72" width="1" height="1" fill="#fff"/>
<rect x="246" y="72" width="1" height="1" fill="#fff"/>
<rect x="248" y="72" width="1" height="1" fill="#fff"/>
<rect x="244" y="73" width="1" height="1" fill="#fff"/>
<rect x="246" y="73" width="1" height="1" fill="#fff"/>
<rect x="248" y="73" width="1" height="1" fill="#fff"/>
<rect x="244" y="74" width="1" height="1" fill="#fff"/>
<rect x="248" y="74" width="1" height="1" fill="#fff"/>
<rect x="244" y="75" width="5" height="1" fill="#fff"/>
<rect x="244" y="76" width="5" height="1" fill="#fff"/>
<rect x="244" y="77" width="1" height="1" fill="#fff"/>
<rect x="244" y="78" width="1" height="1" fill="#fff"/>
<rect x="244" y="79" width="1" height="1" fill="#fff"/>
<rect x="244" y="80" width="1" height="1" fill="#fff"/>
<rect x="244" y="81" width="5" height="1" fill="#fff"/>
<rect x="244" y="82" width="5" height="1" fill="#fff"/>
<rect x="244" y="83" width="1" height="1" fill="#fff"/>
<rect x="244" y="84" width="1" height="1" fill="#fff"/>
<rect x="244" y="85" width="1" height="1" fill="#fff"/>
<rect x="244" y="86" width="1" height="1" fill="#fff"/>
<rect x="244" y="87" width="5" height="1" fill="#fff"/>
<rect x="266.30" y="70.20" width="39.30" height="16.40" rx="2.5" fill="#fff" stroke="#000" stroke-width="2" shape-rendering="geometricPrecision"/>
<text transform="translate(269.80,82.17) scale(0.75,1)" x="0.00 10.93 22.40 31.60" font-size="13.6" fill="#000" stroke="#000" stroke-width="0.3">JP13</text>
<polygon points="254.00,79.00 266.30,75.75 268.50,75.75 268.50,81.75 266.30,81.75" fill="#fff" shape-rendering="geometricPrecision"/>
<polyline points="266.30,75.75 254.00,79.00 266.30,81.75" fill="none" stroke="#000" stroke-width="2.0" stroke-linejoin="round" stroke-linecap="butt" shape-rendering="geometricPrecision"/>
<polyline points="249.50,79.00 256.00,79.00" fill="none" stroke="#000" stroke-width="2.4" stroke-linejoin="round" stroke-linecap="butt" shape-rendering="geometricPrecision"/>
<rect x="215.30" y="122.10" width="40.40" height="16.70" rx="2.5" fill="#fff" stroke="#000" stroke-width="2" shape-rendering="geometricPrecision"/>
<text transform="translate(219.80,134.70) scale(0.75,1)" x="0.00 10.93 22.40 31.60" font-size="13.6" fill="#000" stroke="#000" stroke-width="0.3">JP14</text>
<polygon points="235.30,156.50 232.20,138.80 232.20,136.60 238.60,136.60 238.60,138.80" fill="#fff" shape-rendering="geometricPrecision"/>
<polyline points="232.20,138.80 235.30,156.50 238.60,138.80" fill="none" stroke="#000" stroke-width="2" stroke-linejoin="round" stroke-linecap="butt" shape-rendering="geometricPrecision"/>
<polyline points="235.30,150.00 235.30,158.50" fill="none" stroke="#000" stroke-width="2.6" stroke-linejoin="round" stroke-linecap="butt" shape-rendering="geometricPrecision"/>
<rect x="229" y="158" width="14" height="6" fill="#000"/>
<rect x="230" y="159" width="1" height="1" fill="#fff"/>
<rect x="236" y="159" width="2" height="1" fill="#fff"/>
<rect x="241" y="159" width="1" height="1" fill="#fff"/>
<rect x="230" y="160" width="1" height="1" fill="#fff"/>
<rect x="236" y="160" width="2" height="1" fill="#fff"/>
<rect x="241" y="160" width="1" height="1" fill="#fff"/>
<rect x="230" y="161" width="1" height="1" fill="#fff"/>
<rect x="236" y="161" width="2" height="1" fill="#fff"/>
<rect x="241" y="161" width="1" height="1" fill="#fff"/>
<rect x="230" y="162" width="1" height="1" fill="#fff"/>
<rect x="236" y="162" width="2" height="1" fill="#fff"/>
<rect x="241" y="162" width="1" height="1" fill="#fff"/>
<rect x="242" y="166" width="7" height="14" fill="#000"/>
<rect x="243" y="167" width="5" height="1" fill="#fff"/>
<rect x="243" y="168" width="1" height="1" fill="#fff"/>
<rect x="243" y="169" width="1" height="1" fill="#fff"/>
<rect x="243" y="170" width="1" height="1" fill="#fff"/>
<rect x="243" y="171" width="5" height="1" fill="#fff"/>
<rect x="243" y="172" width="5" height="1" fill="#fff"/>
<rect x="243" y="173" width="5" height="1" fill="#fff"/>
<rect x="243" y="174" width="1" height="1" fill="#fff"/>
<rect x="243" y="175" width="1" height="1" fill="#fff"/>
<rect x="243" y="176" width="1" height="1" fill="#fff"/>
<rect x="243" y="177" width="1" height="1" fill="#fff"/>
<rect x="243" y="178" width="5" height="1" fill="#fff"/>
<rect x="264.30" y="165.30" width="39.70" height="16.50" rx="2.5" fill="#fff" stroke="#000" stroke-width="2" shape-rendering="geometricPrecision"/>
<text transform="translate(268.80,176.30) scale(0.75,1)" x="0.00 10.93 22.40 31.60" font-size="13.6" fill="#000" stroke="#000" stroke-width="0.3">JP15</text>
<polygon points="254.00,172.60 264.30,168.60 266.50,168.60 266.50,177.40 264.30,177.40" fill="#fff" shape-rendering="geometricPrecision"/>
<polyline points="264.30,168.60 254.00,172.60 264.30,177.40" fill="none" stroke="#000" stroke-width="2" stroke-linejoin="round" stroke-linecap="butt" shape-rendering="geometricPrecision"/>
<polyline points="248.50,172.60 257.50,172.60" fill="none" stroke="#000" stroke-width="2.8" stroke-linejoin="round" stroke-linecap="butt" shape-rendering="geometricPrecision"/>
<rect x="762" y="73" width="20" height="6" fill="#000"/>
<rect x="763" y="74" width="1" height="1" fill="#fff"/>
<rect x="769" y="74" width="1" height="1" fill="#fff"/>
<rect x="774" y="74" width="2" height="1" fill="#fff"/>
<rect x="780" y="74" width="1" height="1" fill="#fff"/>
<rect x="763" y="75" width="1" height="1" fill="#fff"/>
<rect x="765" y="75" width="3" height="1" fill="#fff"/>
<rect x="769" y="75" width="1" height="1" fill="#fff"/>
<rect x="774" y="75" width="2" height="1" fill="#fff"/>
<rect x="780" y="75" width="1" height="1" fill="#fff"/>
<rect x="763" y="76" width="1" height="1" fill="#fff"/>
<rect x="765" y="76" width="3" height="1" fill="#fff"/>
<rect x="769" y="76" width="1" height="1" fill="#fff"/>
<rect x="774" y="76" width="2" height="1" fill="#fff"/>
<rect x="780" y="76" width="1" height="1" fill="#fff"/>
<rect x="763" y="77" width="1" height="1" fill="#fff"/>
<rect x="769" y="77" width="1" height="1" fill="#fff"/>
<rect x="774" y="77" width="2" height="1" fill="#fff"/>
<rect x="780" y="77" width="1" height="1" fill="#fff"/>
<rect x="752.00" y="97.20" width="41.00" height="16.50" rx="2.5" fill="#fff" stroke="#000" stroke-width="2" shape-rendering="geometricPrecision"/>
<text transform="translate(756.35,109.22) scale(0.75,1)" x="0.00 10.93 22.40 31.60" font-size="13.6" fill="#000" stroke="#000" stroke-width="0.3">JP28</text>
<polygon points="772.00,88.00 769.87,97.20 769.87,99.40 774.43,99.40 774.43,97.20" fill="#fff" shape-rendering="geometricPrecision"/>
<polyline points="769.87,97.20 772.00,88.00 774.43,97.20" fill="none" stroke="#000" stroke-width="2.0" stroke-linejoin="round" stroke-linecap="butt" shape-rendering="geometricPrecision"/>
<polyline points="772.00,78.50 772.00,85.00" fill="none" stroke="#000" stroke-width="2" stroke-linejoin="round" stroke-linecap="butt" shape-rendering="geometricPrecision"/>
<polyline points="772.00,84.00 772.00,91.00" fill="none" stroke="#000" stroke-width="3.6" stroke-linejoin="round" stroke-linecap="butt" shape-rendering="geometricPrecision"/>
<rect x="736.50" y="245.20" width="39.50" height="16.60" rx="2.5" fill="#fff" stroke="#000" stroke-width="2" shape-rendering="geometricPrecision"/>
<text transform="translate(740.10,257.27) scale(0.75,1)" x="0.00 10.93 22.40 31.60" font-size="13.6" fill="#000" stroke="#000" stroke-width="0.3">JP29</text>
<polygon points="783.00,252.60 776.00,249.85 773.80,249.85 773.80,256.65 776.00,256.65" fill="#fff" shape-rendering="geometricPrecision"/>
<polyline points="776.00,249.85 783.00,252.60 776.00,256.65" fill="none" stroke="#000" stroke-width="2.0" stroke-linejoin="round" stroke-linecap="butt" shape-rendering="geometricPrecision"/>
<polyline points="781.50,252.60 792.50,252.60" fill="none" stroke="#000" stroke-width="2.6" stroke-linejoin="round" stroke-linecap="butt" shape-rendering="geometricPrecision"/>
<rect x="792" y="244" width="7" height="19" fill="#000"/>
<rect x="793" y="245" width="4" height="1" fill="#fff"/>
<rect x="793" y="246" width="1" height="1" fill="#fff"/>
<rect x="796" y="246" width="1" height="1" fill="#fff"/>
<rect x="793" y="247" width="1" height="1" fill="#fff"/>
<rect x="796" y="247" width="1" height="1" fill="#fff"/>
<rect x="793" y="248" width="4" height="1" fill="#fff"/>
<rect x="793" y="249" width="4" height="1" fill="#fff"/>
<rect x="793" y="250" width="5" height="1" fill="#fff"/>
<rect x="798" y="251" width="1" height="1" fill="#fff"/>
<rect x="797" y="252" width="1" height="1" fill="#fff"/>
<rect x="797" y="253" width="1" height="1" fill="#fff"/>
<rect x="797" y="254" width="1" height="1" fill="#fff"/>
<rect x="797" y="255" width="1" height="1" fill="#fff"/>
<rect x="793" y="256" width="5" height="1" fill="#fff"/>
<rect x="797" y="257" width="1" height="1" fill="#fff"/>
<rect x="797" y="258" width="1" height="1" fill="#fff"/>
<rect x="797" y="259" width="1" height="1" fill="#fff"/>
<rect x="797" y="260" width="1" height="1" fill="#fff"/>
<rect x="797" y="261" width="1" height="1" fill="#fff"/>
<rect x="720" y="350" width="7" height="26" fill="#000"/>
<rect x="721" y="351" width="5" height="1" fill="#fff"/>
<rect x="721" y="352" width="1" height="1" fill="#fff"/>
<rect x="724" y="352" width="2" height="1" fill="#fff"/>
<rect x="721" y="353" width="1" height="1" fill="#fff"/>
<rect x="724" y="353" width="2" height="1" fill="#fff"/>
<rect x="721" y="354" width="5" height="1" fill="#fff"/>
<rect x="721" y="355" width="5" height="1" fill="#fff"/>
<rect x="721" y="356" width="5" height="1" fill="#fff"/>
<rect x="725" y="357" width="1" height="1" fill="#fff"/>
<rect x="725" y="358" width="1" height="1" fill="#fff"/>
<rect x="725" y="359" width="1" height="1" fill="#fff"/>
<rect x="725" y="360" width="1" height="1" fill="#fff"/>
<rect x="725" y="361" width="1" height="1" fill="#fff"/>
<rect x="721" y="362" width="5" height="1" fill="#fff"/>
<rect x="721" y="363" width="5" height="1" fill="#fff"/>
<rect x="725" y="364" width="1" height="1" fill="#fff"/>
<rect x="725" y="365" width="1" height="1" fill="#fff"/>
<rect x="725" y="366" width="1" height="1" fill="#fff"/>
<rect x="725" y="367" width="1" height="1" fill="#fff"/>
<rect x="721" y="368" width="5" height="1" fill="#fff"/>
<rect x="721" y="369" width="5" height="1" fill="#fff"/>
<rect x="725" y="370" width="1" height="1" fill="#fff"/>
<rect x="725" y="371" width="1" height="1" fill="#fff"/>
<rect x="725" y="372" width="1" height="1" fill="#fff"/>
<rect x="725" y="373" width="1" height="1" fill="#fff"/>
<rect x="721" y="374" width="5" height="1" fill="#fff"/>
<rect x="742.20" y="354.90" width="33.50" height="15.70" rx="2.5" fill="#fff" stroke="#000" stroke-width="2" shape-rendering="geometricPrecision"/>
<text transform="translate(749.00,366.52) scale(0.75,1)" x="0.00 9.33 18.53" font-size="13.6" fill="#000" stroke="#000" stroke-width="0.3">J12</text>
<polygon points="731.50,362.80 742.20,359.80 744.40,359.80 744.40,366.20 742.20,366.20" fill="#fff" shape-rendering="geometricPrecision"/>
<polyline points="742.20,359.80 731.50,362.80 742.20,366.20" fill="none" stroke="#000" stroke-width="2.0" stroke-linejoin="round" stroke-linecap="butt" shape-rendering="geometricPrecision"/>
<polyline points="726.50,362.80 733.50,362.80" fill="none" stroke="#000" stroke-width="2.4" stroke-linejoin="round" stroke-linecap="butt" shape-rendering="geometricPrecision"/>
<rect x="698" y="381" width="14" height="7" fill="#000"/>
<rect x="705" y="382" width="1" height="1" fill="#fff"/>
<rect x="705" y="383" width="1" height="1" fill="#fff"/>
<rect x="705" y="384" width="1" height="1" fill="#fff"/>
<rect x="705" y="385" width="1" height="1" fill="#fff"/>
<rect x="699" y="386" width="12" height="1" fill="#fff"/>
<rect x="685.40" y="405.20" width="40.60" height="16.50" rx="2.5" fill="#fff" stroke="#000" stroke-width="2" shape-rendering="geometricPrecision"/>
<text transform="translate(689.55,417.22) scale(0.75,1)" x="0.00 10.93 22.40 31.60" font-size="13.6" fill="#000" stroke="#000" stroke-width="0.3">JP27</text>
<polygon points="705.40,395.00 703.10,405.20 703.10,407.40 707.90,407.40 707.90,405.20" fill="#fff" shape-rendering="geometricPrecision"/>
<polyline points="703.10,405.20 705.40,395.00 707.90,405.20" fill="none" stroke="#000" stroke-width="2.0" stroke-linejoin="round" stroke-linecap="butt" shape-rendering="geometricPrecision"/>
<polyline points="705.40,387.50 705.40,393.00" fill="none" stroke="#000" stroke-width="2.2" stroke-linejoin="round" stroke-linecap="butt" shape-rendering="geometricPrecision"/>
<polyline points="705.40,391.50 705.40,398.00" fill="none" stroke="#000" stroke-width="3.6" stroke-linejoin="round" stroke-linecap="butt" shape-rendering="geometricPrecision"/>
<text transform="translate(689.2,54.8) scale(0.82,1)" x="0.00 10.61 21.59 30.12 36.46 45.61" font-size="11.9" fill="#000" stroke="#000" stroke-width="0.3">MH2113</text>
<rect x="413" y="423" width="278" height="15" fill="#000"/>
<rect x="414" y="424" width="276" height="13" fill="#fff"/>
<rect x="414" y="426" width="7" height="1" fill="#000"/>
<rect x="414" y="431" width="7" height="1" fill="#000"/>
<rect x="421" y="424" width="1" height="13" fill="#000"/>
<rect x="422" y="425" width="1" height="1" fill="#000"/>
<rect x="423" y="424" width="2" height="13" fill="#000"/>
<rect x="425" y="425" width="10" height="1" fill="#000"/>
<rect x="434" y="425" width="1" height="8" fill="#000"/>
<rect x="425" y="426" width="1" height="8" fill="#000"/>
<rect x="427" y="431" width="6" height="1" fill="#000"/>
<rect x="432" y="432" width="1" height="5" fill="#000"/>
<rect x="425" y="432" width="3" height="2" fill="#000"/>
<rect x="425" y="436" width="8" height="1" fill="#000"/>
<rect x="436" y="425" width="112" height="7" fill="#000"/>
<rect x="437" y="431" width="111" height="5" fill="#000"/>
<rect x="683" y="426" width="7" height="1" fill="#000"/>
<rect x="683" y="431" width="7" height="1" fill="#000"/>
<rect x="682" y="424" width="1" height="13" fill="#000"/>
<rect x="681" y="425" width="1" height="1" fill="#000"/>
<rect x="679" y="424" width="2" height="13" fill="#000"/>
<rect x="669" y="425" width="10" height="1" fill="#000"/>
<rect x="669" y="425" width="1" height="8" fill="#000"/>
<rect x="678" y="426" width="1" height="8" fill="#000"/>
<rect x="671" y="431" width="6" height="1" fill="#000"/>
<rect x="671" y="432" width="1" height="5" fill="#000"/>
<rect x="676" y="432" width="3" height="2" fill="#000"/>
<rect x="671" y="436" width="8" height="1" fill="#000"/>
<rect x="556" y="425" width="112" height="7" fill="#000"/>
<rect x="556" y="431" width="111" height="5" fill="#000"/>
<rect x="548" y="424" width="8" height="13" fill="#fff"/>
<rect x="437" y="426" width="1" height="5" fill="#fff"/>
<rect x="440" y="426" width="1" height="5" fill="#fff"/>
<rect x="442" y="426" width="1" height="5" fill="#fff"/>
<rect x="445" y="426" width="1" height="5" fill="#fff"/>
<rect x="448" y="426" width="1" height="5" fill="#fff"/>
<rect x="451" y="426" width="1" height="5" fill="#fff"/>
<rect x="453" y="426" width="1" height="5" fill="#fff"/>
<rect x="458" y="426" width="1" height="5" fill="#fff"/>
<rect x="461" y="426" width="1" height="5" fill="#fff"/>
<rect x="464" y="426" width="1" height="5" fill="#fff"/>
<rect x="466" y="426" width="1" height="5" fill="#fff"/>
<rect x="469" y="426" width="1" height="5" fill="#fff"/>
<rect x="472" y="426" width="1" height="5" fill="#fff"/>
<rect x="474" y="426" width="1" height="5" fill="#fff"/>
<rect x="477" y="426" width="1" height="5" fill="#fff"/>
<rect x="480" y="426" width="1" height="5" fill="#fff"/>
<rect x="483" y="426" width="1" height="5" fill="#fff"/>
<rect x="485" y="426" width="1" height="5" fill="#fff"/>
<rect x="488" y="426" width="1" height="5" fill="#fff"/>
<rect x="491" y="426" width="1" height="5" fill="#fff"/>
<rect x="493" y="426" width="1" height="5" fill="#fff"/>
<rect x="496" y="426" width="1" height="5" fill="#fff"/>
<rect x="499" y="426" width="1" height="5" fill="#fff"/>
<rect x="501" y="426" width="1" height="5" fill="#fff"/>
<rect x="504" y="426" width="1" height="5" fill="#fff"/>
<rect x="507" y="426" width="1" height="5" fill="#fff"/>
<rect x="509" y="426" width="1" height="5" fill="#fff"/>
<rect x="512" y="426" width="1" height="5" fill="#fff"/>
<rect x="515" y="426" width="1" height="5" fill="#fff"/>
<rect x="517" y="426" width="1" height="5" fill="#fff"/>
<rect x="520" y="426" width="1" height="5" fill="#fff"/>
<rect x="525" y="426" width="1" height="5" fill="#fff"/>
<rect x="528" y="426" width="1" height="5" fill="#fff"/>
<rect x="531" y="426" width="1" height="5" fill="#fff"/>
<rect x="533" y="426" width="1" height="5" fill="#fff"/>
<rect x="536" y="426" width="1" height="5" fill="#fff"/>
<rect x="539" y="426" width="1" height="5" fill="#fff"/>
<rect x="541" y="426" width="1" height="5" fill="#fff"/>
<rect x="544" y="426" width="1" height="5" fill="#fff"/>
<rect x="557" y="426" width="1" height="5" fill="#fff"/>
<rect x="560" y="426" width="1" height="5" fill="#fff"/>
<rect x="563" y="426" width="1" height="5" fill="#fff"/>
<rect x="565" y="426" width="1" height="5" fill="#fff"/>
<rect x="568" y="426" width="1" height="5" fill="#fff"/>
<rect x="571" y="426" width="1" height="5" fill="#fff"/>
<rect x="573" y="426" width="1" height="5" fill="#fff"/>
<rect x="578" y="426" width="1" height="5" fill="#fff"/>
<rect x="581" y="426" width="1" height="5" fill="#fff"/>
<rect x="584" y="426" width="1" height="5" fill="#fff"/>
<rect x="586" y="426" width="1" height="5" fill="#fff"/>
<rect x="589" y="426" width="1" height="5" fill="#fff"/>
<rect x="592" y="426" width="1" height="5" fill="#fff"/>
<rect x="594" y="426" width="1" height="5" fill="#fff"/>
<rect x="597" y="426" width="1" height="5" fill="#fff"/>
<rect x="600" y="426" width="1" height="5" fill="#fff"/>
<rect x="603" y="426" width="1" height="5" fill="#fff"/>
<rect x="605" y="426" width="1" height="5" fill="#fff"/>
<rect x="608" y="426" width="1" height="5" fill="#fff"/>
<rect x="611" y="426" width="1" height="5" fill="#fff"/>
<rect x="613" y="426" width="1" height="5" fill="#fff"/>
<rect x="616" y="426" width="1" height="5" fill="#fff"/>
<rect x="619" y="426" width="1" height="5" fill="#fff"/>
<rect x="621" y="426" width="1" height="5" fill="#fff"/>
<rect x="624" y="426" width="1" height="5" fill="#fff"/>
<rect x="627" y="426" width="1" height="5" fill="#fff"/>
<rect x="629" y="426" width="1" height="5" fill="#fff"/>
<rect x="632" y="426" width="1" height="5" fill="#fff"/>
<rect x="635" y="426" width="1" height="5" fill="#fff"/>
<rect x="637" y="426" width="1" height="5" fill="#fff"/>
<rect x="640" y="426" width="1" height="5" fill="#fff"/>
<rect x="643" y="426" width="1" height="5" fill="#fff"/>
<rect x="645" y="426" width="1" height="5" fill="#fff"/>
<rect x="648" y="426" width="1" height="5" fill="#fff"/>
<rect x="651" y="426" width="1" height="5" fill="#fff"/>
<rect x="653" y="426" width="1" height="5" fill="#fff"/>
<rect x="656" y="426" width="1" height="5" fill="#fff"/>
<rect x="659" y="426" width="1" height="5" fill="#fff"/>
<rect x="661" y="426" width="1" height="5" fill="#fff"/>
<rect x="664" y="426" width="1" height="5" fill="#fff"/>
<rect x="413" y="446" width="278" height="16" fill="#000"/>
<rect x="414" y="447" width="276" height="14" fill="#fff"/>
<rect x="414" y="449" width="7" height="1" fill="#000"/>
<rect x="414" y="454" width="7" height="1" fill="#000"/>
<rect x="421" y="447" width="1" height="14" fill="#000"/>
<rect x="422" y="448" width="1" height="1" fill="#000"/>
<rect x="423" y="447" width="2" height="14" fill="#000"/>
<rect x="425" y="448" width="10" height="1" fill="#000"/>
<rect x="434" y="448" width="1" height="8" fill="#000"/>
<rect x="425" y="449" width="1" height="8" fill="#000"/>
<rect x="427" y="454" width="6" height="1" fill="#000"/>
<rect x="432" y="455" width="1" height="6" fill="#000"/>
<rect x="425" y="456" width="3" height="1" fill="#000"/>
<rect x="425" y="459" width="8" height="2" fill="#000"/>
<rect x="436" y="448" width="112" height="7" fill="#000"/>
<rect x="437" y="454" width="111" height="5" fill="#000"/>
<rect x="683" y="449" width="7" height="1" fill="#000"/>
<rect x="683" y="454" width="7" height="1" fill="#000"/>
<rect x="682" y="447" width="1" height="14" fill="#000"/>
<rect x="681" y="448" width="1" height="1" fill="#000"/>
<rect x="679" y="447" width="2" height="14" fill="#000"/>
<rect x="669" y="448" width="10" height="1" fill="#000"/>
<rect x="669" y="448" width="1" height="8" fill="#000"/>
<rect x="678" y="449" width="1" height="8" fill="#000"/>
<rect x="671" y="454" width="6" height="1" fill="#000"/>
<rect x="671" y="455" width="1" height="6" fill="#000"/>
<rect x="676" y="456" width="3" height="1" fill="#000"/>
<rect x="671" y="459" width="8" height="2" fill="#000"/>
<rect x="556" y="448" width="112" height="7" fill="#000"/>
<rect x="556" y="454" width="111" height="5" fill="#000"/>
<rect x="548" y="447" width="8" height="14" fill="#fff"/>
<rect x="437" y="450" width="1" height="4" fill="#fff"/>
<rect x="440" y="450" width="1" height="4" fill="#fff"/>
<rect x="442" y="450" width="1" height="4" fill="#fff"/>
<rect x="445" y="450" width="1" height="4" fill="#fff"/>
<rect x="448" y="450" width="1" height="4" fill="#fff"/>
<rect x="451" y="450" width="1" height="4" fill="#fff"/>
<rect x="453" y="450" width="1" height="4" fill="#fff"/>
<rect x="458" y="450" width="1" height="4" fill="#fff"/>
<rect x="461" y="450" width="1" height="4" fill="#fff"/>
<rect x="464" y="450" width="1" height="4" fill="#fff"/>
<rect x="466" y="450" width="1" height="4" fill="#fff"/>
<rect x="469" y="450" width="1" height="4" fill="#fff"/>
<rect x="472" y="450" width="1" height="4" fill="#fff"/>
<rect x="474" y="450" width="1" height="4" fill="#fff"/>
<rect x="477" y="450" width="1" height="4" fill="#fff"/>
<rect x="480" y="450" width="1" height="4" fill="#fff"/>
<rect x="483" y="450" width="1" height="4" fill="#fff"/>
<rect x="485" y="450" width="1" height="4" fill="#fff"/>
<rect x="488" y="450" width="1" height="4" fill="#fff"/>
<rect x="491" y="450" width="1" height="4" fill="#fff"/>
<rect x="493" y="450" width="1" height="4" fill="#fff"/>
<rect x="496" y="450" width="1" height="4" fill="#fff"/>
<rect x="499" y="450" width="1" height="4" fill="#fff"/>
<rect x="501" y="450" width="1" height="4" fill="#fff"/>
<rect x="504" y="450" width="1" height="4" fill="#fff"/>
<rect x="507" y="450" width="1" height="4" fill="#fff"/>
<rect x="509" y="450" width="1" height="4" fill="#fff"/>
<rect x="512" y="450" width="1" height="4" fill="#fff"/>
<rect x="515" y="450" width="1" height="4" fill="#fff"/>
<rect x="517" y="450" width="1" height="4" fill="#fff"/>
<rect x="520" y="450" width="1" height="4" fill="#fff"/>
<rect x="525" y="450" width="1" height="4" fill="#fff"/>
<rect x="528" y="450" width="1" height="4" fill="#fff"/>
<rect x="531" y="450" width="1" height="4" fill="#fff"/>
<rect x="533" y="450" width="1" height="4" fill="#fff"/>
<rect x="536" y="450" width="1" height="4" fill="#fff"/>
<rect x="539" y="450" width="1" height="4" fill="#fff"/>
<rect x="541" y="450" width="1" height="4" fill="#fff"/>
<rect x="544" y="450" width="1" height="4" fill="#fff"/>
<rect x="557" y="450" width="1" height="4" fill="#fff"/>
<rect x="560" y="450" width="1" height="4" fill="#fff"/>
<rect x="563" y="450" width="1" height="4" fill="#fff"/>
<rect x="565" y="450" width="1" height="4" fill="#fff"/>
<rect x="568" y="450" width="1" height="4" fill="#fff"/>
<rect x="571" y="450" width="1" height="4" fill="#fff"/>
<rect x="573" y="450" width="1" height="4" fill="#fff"/>
<rect x="578" y="450" width="1" height="4" fill="#fff"/>
<rect x="581" y="450" width="1" height="4" fill="#fff"/>
<rect x="584" y="450" width="1" height="4" fill="#fff"/>
<rect x="586" y="450" width="1" height="4" fill="#fff"/>
<rect x="589" y="450" width="1" height="4" fill="#fff"/>
<rect x="592" y="450" width="1" height="4" fill="#fff"/>
<rect x="594" y="450" width="1" height="4" fill="#fff"/>
<rect x="597" y="450" width="1" height="4" fill="#fff"/>
<rect x="600" y="450" width="1" height="4" fill="#fff"/>
<rect x="603" y="450" width="1" height="4" fill="#fff"/>
<rect x="605" y="450" width="1" height="4" fill="#fff"/>
<rect x="608" y="450" width="1" height="4" fill="#fff"/>
<rect x="611" y="450" width="1" height="4" fill="#fff"/>
<rect x="613" y="450" width="1" height="4" fill="#fff"/>
<rect x="616" y="450" width="1" height="4" fill="#fff"/>
<rect x="619" y="450" width="1" height="4" fill="#fff"/>
<rect x="621" y="450" width="1" height="4" fill="#fff"/>
<rect x="624" y="450" width="1" height="4" fill="#fff"/>
<rect x="627" y="450" width="1" height="4" fill="#fff"/>
<rect x="629" y="450" width="1" height="4" fill="#fff"/>
<rect x="632" y="450" width="1" height="4" fill="#fff"/>
<rect x="635" y="450" width="1" height="4" fill="#fff"/>
<rect x="637" y="450" width="1" height="4" fill="#fff"/>
<rect x="640" y="450" width="1" height="4" fill="#fff"/>
<rect x="643" y="450" width="1" height="4" fill="#fff"/>
<rect x="645" y="450" width="1" height="4" fill="#fff"/>
<rect x="648" y="450" width="1" height="4" fill="#fff"/>
<rect x="651" y="450" width="1" height="4" fill="#fff"/>
<rect x="653" y="450" width="1" height="4" fill="#fff"/>
<rect x="656" y="450" width="1" height="4" fill="#fff"/>
<rect x="659" y="450" width="1" height="4" fill="#fff"/>
<rect x="661" y="450" width="1" height="4" fill="#fff"/>
<rect x="664" y="450" width="1" height="4" fill="#fff"/>
<rect x="413" y="470" width="278" height="16" fill="#000"/>
<rect x="414" y="471" width="276" height="13" fill="#fff"/>
<rect x="414" y="473" width="7" height="1" fill="#000"/>
<rect x="414" y="478" width="7" height="1" fill="#000"/>
<rect x="421" y="471" width="1" height="13" fill="#000"/>
<rect x="422" y="472" width="1" height="1" fill="#000"/>
<rect x="423" y="471" width="2" height="13" fill="#000"/>
<rect x="425" y="472" width="10" height="1" fill="#000"/>
<rect x="434" y="472" width="1" height="8" fill="#000"/>
<rect x="425" y="473" width="1" height="8" fill="#000"/>
<rect x="427" y="478" width="6" height="1" fill="#000"/>
<rect x="432" y="479" width="1" height="5" fill="#000"/>
<rect x="425" y="480" width="3" height="1" fill="#000"/>
<rect x="425" y="483" width="8" height="1" fill="#000"/>
<rect x="436" y="472" width="112" height="7" fill="#000"/>
<rect x="437" y="478" width="111" height="5" fill="#000"/>
<rect x="683" y="473" width="7" height="1" fill="#000"/>
<rect x="683" y="478" width="7" height="1" fill="#000"/>
<rect x="682" y="471" width="1" height="13" fill="#000"/>
<rect x="681" y="472" width="1" height="1" fill="#000"/>
<rect x="679" y="471" width="2" height="13" fill="#000"/>
<rect x="669" y="472" width="10" height="1" fill="#000"/>
<rect x="669" y="472" width="1" height="8" fill="#000"/>
<rect x="678" y="473" width="1" height="8" fill="#000"/>
<rect x="671" y="478" width="6" height="1" fill="#000"/>
<rect x="671" y="479" width="1" height="5" fill="#000"/>
<rect x="676" y="480" width="3" height="1" fill="#000"/>
<rect x="671" y="483" width="8" height="1" fill="#000"/>
<rect x="556" y="472" width="112" height="7" fill="#000"/>
<rect x="556" y="478" width="111" height="5" fill="#000"/>
<rect x="548" y="471" width="8" height="13" fill="#fff"/>
<rect x="437" y="473" width="1" height="5" fill="#fff"/>
<rect x="440" y="473" width="1" height="5" fill="#fff"/>
<rect x="442" y="473" width="1" height="5" fill="#fff"/>
<rect x="445" y="473" width="1" height="5" fill="#fff"/>
<rect x="448" y="473" width="1" height="5" fill="#fff"/>
<rect x="451" y="473" width="1" height="5" fill="#fff"/>
<rect x="453" y="473" width="1" height="5" fill="#fff"/>
<rect x="458" y="473" width="1" height="5" fill="#fff"/>
<rect x="461" y="473" width="1" height="5" fill="#fff"/>
<rect x="464" y="473" width="1" height="5" fill="#fff"/>
<rect x="466" y="473" width="1" height="5" fill="#fff"/>
<rect x="469" y="473" width="1" height="5" fill="#fff"/>
<rect x="472" y="473" width="1" height="5" fill="#fff"/>
<rect x="474" y="473" width="1" height="5" fill="#fff"/>
<rect x="477" y="473" width="1" height="5" fill="#fff"/>
<rect x="480" y="473" width="1" height="5" fill="#fff"/>
<rect x="483" y="473" width="1" height="5" fill="#fff"/>
<rect x="485" y="473" width="1" height="5" fill="#fff"/>
<rect x="488" y="473" width="1" height="5" fill="#fff"/>
<rect x="491" y="473" width="1" height="5" fill="#fff"/>
<rect x="493" y="473" width="1" height="5" fill="#fff"/>
<rect x="496" y="473" width="1" height="5" fill="#fff"/>
<rect x="499" y="473" width="1" height="5" fill="#fff"/>
<rect x="501" y="473" width="1" height="5" fill="#fff"/>
<rect x="504" y="473" width="1" height="5" fill="#fff"/>
<rect x="507" y="473" width="1" height="5" fill="#fff"/>
<rect x="509" y="473" width="1" height="5" fill="#fff"/>
<rect x="512" y="473" width="1" height="5" fill="#fff"/>
<rect x="515" y="473" width="1" height="5" fill="#fff"/>
<rect x="517" y="473" width="1" height="5" fill="#fff"/>
<rect x="520" y="473" width="1" height="5" fill="#fff"/>
<rect x="525" y="473" width="1" height="5" fill="#fff"/>
<rect x="528" y="473" width="1" height="5" fill="#fff"/>
<rect x="531" y="473" width="1" height="5" fill="#fff"/>
<rect x="533" y="473" width="1" height="5" fill="#fff"/>
<rect x="536" y="473" width="1" height="5" fill="#fff"/>
<rect x="539" y="473" width="1" height="5" fill="#fff"/>
<rect x="541" y="473" width="1" height="5" fill="#fff"/>
<rect x="544" y="473" width="1" height="5" fill="#fff"/>
<rect x="557" y="473" width="1" height="5" fill="#fff"/>
<rect x="560" y="473" width="1" height="5" fill="#fff"/>
<rect x="563" y="473" width="1" height="5" fill="#fff"/>
<rect x="565" y="473" width="1" height="5" fill="#fff"/>
<rect x="568" y="473" width="1" height="5" fill="#fff"/>
<rect x="571" y="473" width="1" height="5" fill="#fff"/>
<rect x="573" y="473" width="1" height="5" fill="#fff"/>
<rect x="578" y="473" width="1" height="5" fill="#fff"/>
<rect x="581" y="473" width="1" height="5" fill="#fff"/>
<rect x="584" y="473" width="1" height="5" fill="#fff"/>
<rect x="586" y="473" width="1" height="5" fill="#fff"/>
<rect x="589" y="473" width="1" height="5" fill="#fff"/>
<rect x="592" y="473" width="1" height="5" fill="#fff"/>
<rect x="594" y="473" width="1" height="5" fill="#fff"/>
<rect x="597" y="473" width="1" height="5" fill="#fff"/>
<rect x="600" y="473" width="1" height="5" fill="#fff"/>
<rect x="603" y="473" width="1" height="5" fill="#fff"/>
<rect x="605" y="473" width="1" height="5" fill="#fff"/>
<rect x="608" y="473" width="1" height="5" fill="#fff"/>
<rect x="611" y="473" width="1" height="5" fill="#fff"/>
<rect x="613" y="473" width="1" height="5" fill="#fff"/>
<rect x="616" y="473" width="1" height="5" fill="#fff"/>
<rect x="619" y="473" width="1" height="5" fill="#fff"/>
<rect x="621" y="473" width="1" height="5" fill="#fff"/>
<rect x="624" y="473" width="1" height="5" fill="#fff"/>
<rect x="627" y="473" width="1" height="5" fill="#fff"/>
<rect x="629" y="473" width="1" height="5" fill="#fff"/>
<rect x="632" y="473" width="1" height="5" fill="#fff"/>
<rect x="635" y="473" width="1" height="5" fill="#fff"/>
<rect x="637" y="473" width="1" height="5" fill="#fff"/>
<rect x="640" y="473" width="1" height="5" fill="#fff"/>
<rect x="643" y="473" width="1" height="5" fill="#fff"/>
<rect x="645" y="473" width="1" height="5" fill="#fff"/>
<rect x="648" y="473" width="1" height="5" fill="#fff"/>
<rect x="651" y="473" width="1" height="5" fill="#fff"/>
<rect x="653" y="473" width="1" height="5" fill="#fff"/>
<rect x="656" y="473" width="1" height="5" fill="#fff"/>
<rect x="659" y="473" width="1" height="5" fill="#fff"/>
<rect x="661" y="473" width="1" height="5" fill="#fff"/>
<rect x="664" y="473" width="1" height="5" fill="#fff"/>
<rect x="413" y="494" width="278" height="17" fill="#000"/>
<rect x="414" y="495" width="276" height="15" fill="#fff"/>
<rect x="414" y="498" width="7" height="1" fill="#000"/>
<rect x="414" y="503" width="7" height="1" fill="#000"/>
<rect x="421" y="495" width="1" height="15" fill="#000"/>
<rect x="422" y="497" width="1" height="1" fill="#000"/>
<rect x="423" y="495" width="2" height="15" fill="#000"/>
<rect x="425" y="497" width="10" height="1" fill="#000"/>
<rect x="434" y="497" width="1" height="8" fill="#000"/>
<rect x="425" y="498" width="1" height="8" fill="#000"/>
<rect x="427" y="503" width="6" height="1" fill="#000"/>
<rect x="432" y="504" width="1" height="6" fill="#000"/>
<rect x="425" y="505" width="3" height="1" fill="#000"/>
<rect x="425" y="509" width="8" height="1" fill="#000"/>
<rect x="436" y="497" width="112" height="7" fill="#000"/>
<rect x="437" y="503" width="111" height="6" fill="#000"/>
<rect x="683" y="498" width="7" height="1" fill="#000"/>
<rect x="683" y="503" width="7" height="1" fill="#000"/>
<rect x="682" y="495" width="1" height="15" fill="#000"/>
<rect x="681" y="497" width="1" height="1" fill="#000"/>
<rect x="679" y="495" width="2" height="15" fill="#000"/>
<rect x="669" y="497" width="10" height="1" fill="#000"/>
<rect x="669" y="497" width="1" height="8" fill="#000"/>
<rect x="678" y="498" width="1" height="8" fill="#000"/>
<rect x="671" y="503" width="6" height="1" fill="#000"/>
<rect x="671" y="504" width="1" height="6" fill="#000"/>
<rect x="676" y="505" width="3" height="1" fill="#000"/>
<rect x="671" y="509" width="8" height="1" fill="#000"/>
<rect x="556" y="497" width="112" height="7" fill="#000"/>
<rect x="556" y="503" width="111" height="6" fill="#000"/>
<rect x="548" y="495" width="8" height="15" fill="#fff"/>
<rect x="437" y="498" width="1" height="5" fill="#fff"/>
<rect x="440" y="498" width="1" height="5" fill="#fff"/>
<rect x="442" y="498" width="1" height="5" fill="#fff"/>
<rect x="445" y="498" width="1" height="5" fill="#fff"/>
<rect x="448" y="498" width="1" height="5" fill="#fff"/>
<rect x="451" y="498" width="1" height="5" fill="#fff"/>
<rect x="453" y="498" width="1" height="5" fill="#fff"/>
<rect x="458" y="498" width="1" height="5" fill="#fff"/>
<rect x="461" y="498" width="1" height="5" fill="#fff"/>
<rect x="464" y="498" width="1" height="5" fill="#fff"/>
<rect x="466" y="498" width="1" height="5" fill="#fff"/>
<rect x="469" y="498" width="1" height="5" fill="#fff"/>
<rect x="472" y="498" width="1" height="5" fill="#fff"/>
<rect x="474" y="498" width="1" height="5" fill="#fff"/>
<rect x="477" y="498" width="1" height="5" fill="#fff"/>
<rect x="480" y="498" width="1" height="5" fill="#fff"/>
<rect x="483" y="498" width="1" height="5" fill="#fff"/>
<rect x="485" y="498" width="1" height="5" fill="#fff"/>
<rect x="488" y="498" width="1" height="5" fill="#fff"/>
<rect x="491" y="498" width="1" height="5" fill="#fff"/>
<rect x="493" y="498" width="1" height="5" fill="#fff"/>
<rect x="496" y="498" width="1" height="5" fill="#fff"/>
<rect x="499" y="498" width="1" height="5" fill="#fff"/>
<rect x="501" y="498" width="1" height="5" fill="#fff"/>
<rect x="504" y="498" width="1" height="5" fill="#fff"/>
<rect x="507" y="498" width="1" height="5" fill="#fff"/>
<rect x="509" y="498" width="1" height="5" fill="#fff"/>
<rect x="512" y="498" width="1" height="5" fill="#fff"/>
<rect x="515" y="498" width="1" height="5" fill="#fff"/>
<rect x="517" y="498" width="1" height="5" fill="#fff"/>
<rect x="520" y="498" width="1" height="5" fill="#fff"/>
<rect x="525" y="498" width="1" height="5" fill="#fff"/>
<rect x="528" y="498" width="1" height="5" fill="#fff"/>
<rect x="531" y="498" width="1" height="5" fill="#fff"/>
<rect x="533" y="498" width="1" height="5" fill="#fff"/>
<rect x="536" y="498" width="1" height="5" fill="#fff"/>
<rect x="539" y="498" width="1" height="5" fill="#fff"/>
<rect x="541" y="498" width="1" height="5" fill="#fff"/>
<rect x="544" y="498" width="1" height="5" fill="#fff"/>
<rect x="557" y="498" width="1" height="5" fill="#fff"/>
<rect x="560" y="498" width="1" height="5" fill="#fff"/>
<rect x="563" y="498" width="1" height="5" fill="#fff"/>
<rect x="565" y="498" width="1" height="5" fill="#fff"/>
<rect x="568" y="498" width="1" height="5" fill="#fff"/>
<rect x="571" y="498" width="1" height="5" fill="#fff"/>
<rect x="573" y="498" width="1" height="5" fill="#fff"/>
<rect x="578" y="498" width="1" height="5" fill="#fff"/>
<rect x="581" y="498" width="1" height="5" fill="#fff"/>
<rect x="584" y="498" width="1" height="5" fill="#fff"/>
<rect x="586" y="498" width="1" height="5" fill="#fff"/>
<rect x="589" y="498" width="1" height="5" fill="#fff"/>
<rect x="592" y="498" width="1" height="5" fill="#fff"/>
<rect x="594" y="498" width="1" height="5" fill="#fff"/>
<rect x="597" y="498" width="1" height="5" fill="#fff"/>
<rect x="600" y="498" width="1" height="5" fill="#fff"/>
<rect x="603" y="498" width="1" height="5" fill="#fff"/>
<rect x="605" y="498" width="1" height="5" fill="#fff"/>
<rect x="608" y="498" width="1" height="5" fill="#fff"/>
<rect x="611" y="498" width="1" height="5" fill="#fff"/>
<rect x="613" y="498" width="1" height="5" fill="#fff"/>
<rect x="616" y="498" width="1" height="5" fill="#fff"/>
<rect x="619" y="498" width="1" height="5" fill="#fff"/>
<rect x="621" y="498" width="1" height="5" fill="#fff"/>
<rect x="624" y="498" width="1" height="5" fill="#fff"/>
<rect x="627" y="498" width="1" height="5" fill="#fff"/>
<rect x="629" y="498" width="1" height="5" fill="#fff"/>
<rect x="632" y="498" width="1" height="5" fill="#fff"/>
<rect x="635" y="498" width="1" height="5" fill="#fff"/>
<rect x="637" y="498" width="1" height="5" fill="#fff"/>
<rect x="640" y="498" width="1" height="5" fill="#fff"/>
<rect x="643" y="498" width="1" height="5" fill="#fff"/>
<rect x="645" y="498" width="1" height="5" fill="#fff"/>
<rect x="648" y="498" width="1" height="5" fill="#fff"/>
<rect x="651" y="498" width="1" height="5" fill="#fff"/>
<rect x="653" y="498" width="1" height="5" fill="#fff"/>
<rect x="656" y="498" width="1" height="5" fill="#fff"/>
<rect x="659" y="498" width="1" height="5" fill="#fff"/>
<rect x="661" y="498" width="1" height="5" fill="#fff"/>
<rect x="664" y="498" width="1" height="5" fill="#fff"/>
<rect x="523" y="431" width="57" height="19" fill="#000"/>
<rect x="522" y="432" width="59" height="17" fill="#000"/>
<rect x="524" y="433" width="55" height="15" fill="#fff"/>
<text transform="translate(528.20,443.70) scale(0.75,1)" x="0.00 11.33 23.60 36.40 46.40 54.80" font-size="13.5" fill="#000" stroke="#000" stroke-width="0.3">BANK 0</text>
<rect x="523" y="481" width="57" height="18" fill="#000"/>
<rect x="522" y="482" width="59" height="16" fill="#000"/>
<rect x="524" y="483" width="55" height="14" fill="#fff"/>
<text transform="translate(528.20,494.60) scale(0.75,1)" x="0.00 11.33 23.60 36.40 46.40 56.00" font-size="13.5" fill="#000" stroke="#000" stroke-width="0.3">BANK 1</text>
<rect x="729" y="400" width="24" height="113" fill="#000"/>
<rect x="730" y="401" width="22" height="111" fill="#fff"/>
<rect x="732" y="401" width="8" height="3" fill="#000"/>
<rect x="733" y="402" width="1" height="1" fill="#fff"/>
<rect x="738" y="402" width="1" height="1" fill="#fff"/>
<rect x="735" y="401" width="3" height="1" fill="#fff"/>
<rect x="732" y="509" width="8" height="3" fill="#000"/>
<rect x="733" y="510" width="1" height="1" fill="#fff"/>
<rect x="738" y="510" width="1" height="1" fill="#fff"/>
<rect x="735" y="511" width="3" height="1" fill="#fff"/>
<rect x="732" y="406" width="8" height="8" fill="#000"/>
<rect x="733" y="407" width="6" height="6" fill="#fff"/>
<rect x="732" y="415" width="8" height="8" fill="#000"/>
<rect x="733" y="416" width="6" height="6" fill="#fff"/>
<rect x="732" y="425" width="8" height="8" fill="#000"/>
<rect x="733" y="426" width="6" height="6" fill="#fff"/>
<rect x="732" y="434" width="8" height="8" fill="#000"/>
<rect x="733" y="435" width="6" height="6" fill="#fff"/>
<rect x="732" y="444" width="8" height="8" fill="#000"/>
<rect x="733" y="445" width="6" height="6" fill="#fff"/>
<rect x="732" y="453" width="8" height="8" fill="#000"/>
<rect x="733" y="454" width="6" height="6" fill="#fff"/>
<rect x="732" y="462" width="8" height="8" fill="#000"/>
<rect x="733" y="463" width="6" height="6" fill="#fff"/>
<rect x="732" y="472" width="8" height="8" fill="#000"/>
<rect x="733" y="473" width="6" height="6" fill="#fff"/>
<rect x="732" y="481" width="8" height="8" fill="#000"/>
<rect x="733" y="482" width="6" height="6" fill="#fff"/>
<rect x="732" y="491" width="8" height="8" fill="#000"/>
<rect x="733" y="492" width="6" height="6" fill="#fff"/>
<rect x="732" y="500" width="8" height="8" fill="#000"/>
<rect x="733" y="501" width="6" height="6" fill="#fff"/>
<rect x="745" y="401" width="1" height="111" fill="#000"/>
<rect x="741" y="402" width="2" height="7" fill="#000"/>
<rect x="747" y="402" width="3" height="7" fill="#000"/>
<rect x="748" y="403" width="1" height="5" fill="#fff"/>
<rect x="746" y="404" width="1" height="5" fill="#000"/>
<rect x="746" y="409" width="1" height="2" fill="#000"/>
<rect x="741" y="411" width="2" height="7" fill="#000"/>
<rect x="747" y="411" width="3" height="7" fill="#000"/>
<rect x="748" y="412" width="1" height="5" fill="#fff"/>
<rect x="746" y="413" width="1" height="5" fill="#000"/>
<rect x="746" y="418" width="1" height="2" fill="#000"/>
<rect x="741" y="420" width="2" height="7" fill="#000"/>
<rect x="747" y="420" width="3" height="7" fill="#000"/>
<rect x="748" y="421" width="1" height="5" fill="#fff"/>
<rect x="746" y="422" width="1" height="5" fill="#000"/>
<rect x="746" y="427" width="1" height="2" fill="#000"/>
<rect x="741" y="430" width="2" height="7" fill="#000"/>
<rect x="747" y="430" width="3" height="7" fill="#000"/>
<rect x="748" y="431" width="1" height="5" fill="#fff"/>
<rect x="746" y="432" width="1" height="5" fill="#000"/>
<rect x="746" y="437" width="1" height="2" fill="#000"/>
<rect x="741" y="439" width="2" height="7" fill="#000"/>
<rect x="747" y="439" width="3" height="7" fill="#000"/>
<rect x="748" y="440" width="1" height="5" fill="#fff"/>
<rect x="746" y="441" width="1" height="5" fill="#000"/>
<rect x="746" y="446" width="1" height="2" fill="#000"/>
<rect x="741" y="448" width="2" height="7" fill="#000"/>
<rect x="747" y="448" width="3" height="7" fill="#000"/>
<rect x="748" y="449" width="1" height="5" fill="#fff"/>
<rect x="746" y="450" width="1" height="5" fill="#000"/>
<rect x="746" y="455" width="1" height="2" fill="#000"/>
<rect x="741" y="457" width="2" height="7" fill="#000"/>
<rect x="747" y="457" width="3" height="7" fill="#000"/>
<rect x="748" y="458" width="1" height="5" fill="#fff"/>
<rect x="746" y="459" width="1" height="5" fill="#000"/>
<rect x="746" y="464" width="1" height="2" fill="#000"/>
<rect x="741" y="466" width="2" height="7" fill="#000"/>
<rect x="747" y="466" width="3" height="7" fill="#000"/>
<rect x="748" y="467" width="1" height="5" fill="#fff"/>
<rect x="746" y="468" width="1" height="5" fill="#000"/>
<rect x="746" y="473" width="1" height="2" fill="#000"/>
<rect x="741" y="475" width="2" height="7" fill="#000"/>
<rect x="747" y="475" width="3" height="7" fill="#000"/>
<rect x="748" y="476" width="1" height="5" fill="#fff"/>
<rect x="746" y="477" width="1" height="5" fill="#000"/>
<rect x="746" y="482" width="1" height="2" fill="#000"/>
<rect x="741" y="485" width="2" height="7" fill="#000"/>
<rect x="747" y="485" width="3" height="7" fill="#000"/>
<rect x="748" y="486" width="1" height="5" fill="#fff"/>
<rect x="746" y="487" width="1" height="5" fill="#000"/>
<rect x="746" y="492" width="1" height="2" fill="#000"/>
<rect x="741" y="494" width="2" height="7" fill="#000"/>
<rect x="747" y="494" width="3" height="7" fill="#000"/>
<rect x="748" y="495" width="1" height="5" fill="#fff"/>
<rect x="746" y="496" width="1" height="5" fill="#000"/>
<rect x="746" y="501" width="1" height="2" fill="#000"/>
<rect x="741" y="503" width="2" height="7" fill="#000"/>
<rect x="747" y="503" width="3" height="7" fill="#000"/>
<rect x="748" y="504" width="1" height="5" fill="#fff"/>
<rect x="746" y="505" width="1" height="5" fill="#000"/>
<rect x="774" y="440" width="24" height="37" fill="#000"/>
<rect x="798" y="435" width="3" height="46" fill="#000"/>
<rect x="801" y="433" width="3" height="51" fill="#000"/>
<rect x="771" y="446" width="3" height="24" fill="#000"/>
<rect x="767" y="448" width="4" height="8" fill="#000"/>
<rect x="768" y="449" width="3" height="6" fill="#fff"/>
<rect x="767" y="459" width="4" height="9" fill="#000"/>
<rect x="768" y="460" width="3" height="7" fill="#fff"/>
<rect x="772" y="456" width="2" height="5" fill="#fff"/>
</svg>
</body></html>
